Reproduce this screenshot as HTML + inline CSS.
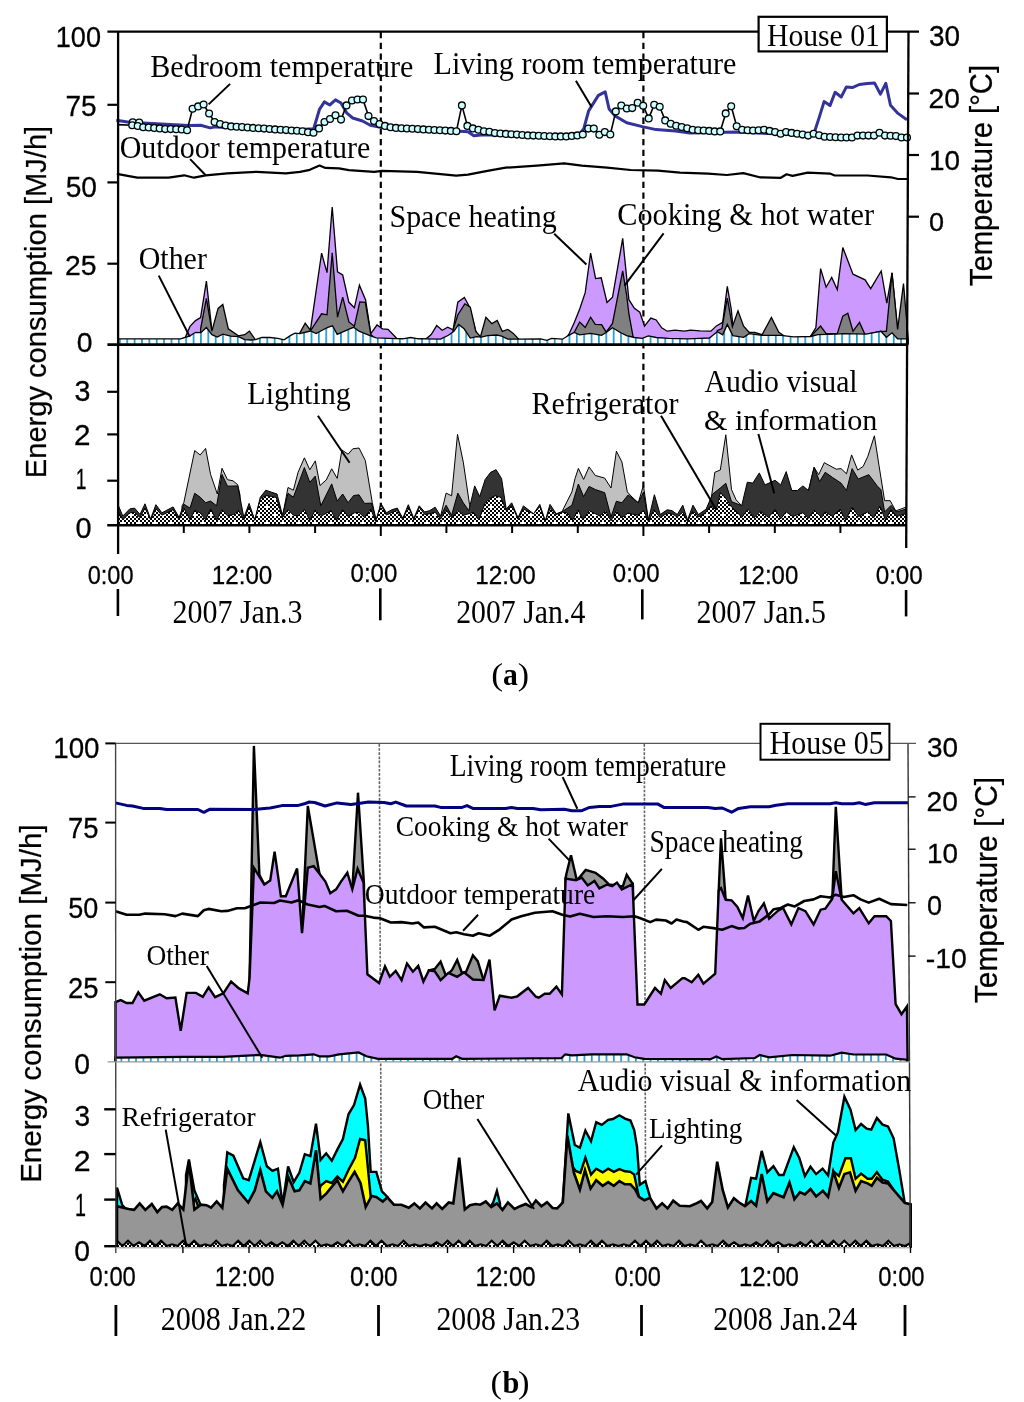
<!DOCTYPE html>
<html><head><meta charset="utf-8"><title>Energy consumption</title><style>html,body{margin:0;padding:0;background:#fff;}svg{display:block;}</style></head><body>
<svg width="1024" height="1402" viewBox="0 0 1024 1402">
<defs>
<pattern id="stripes" patternUnits="userSpaceOnUse" x="119" y="0" width="7.37" height="20"><rect width="7.37" height="20" fill="#fff"/><rect x="0" y="0" width="1.7" height="20" fill="#1a9bd7"/></pattern>
<pattern id="hatchA" patternUnits="userSpaceOnUse" x="0" y="0" width="16" height="16"><rect width="16" height="16" fill="#fff"/><path d="M0,0h2v2h-2zM0,4h2v2h-2zM0,8h2v2h-2zM0,12h2v2h-2zM2,6h2v2h-2zM2,10h2v2h-2zM2,14h2v2h-2zM4,0h2v2h-2zM4,4h2v2h-2zM4,8h2v2h-2zM4,12h2v2h-2zM6,2h2v2h-2zM6,6h2v2h-2zM6,10h2v2h-2zM6,14h2v2h-2zM8,0h2v2h-2zM8,4h2v2h-2zM8,8h2v2h-2zM8,12h2v2h-2zM10,2h2v2h-2zM10,6h2v2h-2zM10,14h2v2h-2zM12,0h2v2h-2zM12,4h2v2h-2zM12,8h2v2h-2zM12,12h2v2h-2zM14,2h2v2h-2zM14,6h2v2h-2zM14,10h2v2h-2zM14,14h2v2h-2z" fill="#000"/></pattern>
<pattern id="hatchB" patternUnits="userSpaceOnUse" x="1" y="1" width="16" height="16"><rect width="16" height="16" fill="#fff"/><path d="M0,0h2v2h-2zM0,4h2v2h-2zM0,8h2v2h-2zM0,12h2v2h-2zM2,6h2v2h-2zM2,10h2v2h-2zM2,14h2v2h-2zM4,0h2v2h-2zM4,4h2v2h-2zM4,8h2v2h-2zM4,12h2v2h-2zM6,2h2v2h-2zM6,6h2v2h-2zM6,10h2v2h-2zM6,14h2v2h-2zM8,0h2v2h-2zM8,4h2v2h-2zM8,8h2v2h-2zM8,12h2v2h-2zM10,2h2v2h-2zM10,6h2v2h-2zM10,14h2v2h-2zM12,0h2v2h-2zM12,4h2v2h-2zM12,8h2v2h-2zM12,12h2v2h-2zM14,2h2v2h-2zM14,6h2v2h-2zM14,10h2v2h-2zM14,14h2v2h-2z" fill="#000"/></pattern>
<pattern id="stripesB" patternUnits="userSpaceOnUse" x="120.5" y="0" width="7.35" height="20"><rect width="7.35" height="20" fill="#fff"/><rect x="0" y="0" width="1.7" height="20" fill="#1a9bd7"/></pattern>
</defs>
<rect width="1024" height="1402" fill="#fff"/>
<line x1="380.8" y1="32" x2="380.8" y2="525" stroke="#000" stroke-width="2.2" stroke-dasharray="6.3 4.4"/>
<line x1="643.4" y1="32" x2="643.4" y2="525" stroke="#000" stroke-width="2.2" stroke-dasharray="6.3 4.4"/>
<line x1="379.3" y1="744" x2="381.5" y2="1246" stroke="#666" stroke-width="1.6" stroke-dasharray="2.7 1.45"/>
<line x1="644.3" y1="744" x2="645.7" y2="1246" stroke="#666" stroke-width="1.6" stroke-dasharray="2.7 1.45"/>
<path d="M183.0,344.5 L183.0,338.5 185.3,337.3 190.0,326.4 195.5,320.6 200.6,317.5 206.4,281.1 211.9,330.3 214.0,334.0 L214.0,344.5 Z" fill="#cc99ff" stroke="none"/><path d="M183.0,344.5 L183.0,338.5 185.3,337.3 190.0,326.4 195.5,320.6 200.6,317.5 206.4,281.1 211.9,330.3 214.0,334.0 L214.0,344.5" fill="none" stroke="#000" stroke-width="1.3" stroke-linejoin="miter" stroke-miterlimit="4"/>
<path d="M308.0,344.5 L308.0,332.0 310.6,328.9 321.6,253.1 327.0,272.7 332.2,207.0 337.5,271.9 342.7,275.0 348.9,302.3 354.4,307.8 359.4,285.2 365.6,300.0 370.8,333.6 377.0,325.0 382.5,328.9 388.0,329.4 396.6,338.3 426.2,338.8 431.2,334.5 436.7,325.6 442.2,330.3 447.7,327.2 453.1,329.8 457.8,302.2 464.4,297.5 469.5,306.9 475.8,331.4 478.0,336.0 L478.0,344.5 Z" fill="#cc99ff" stroke="none"/><path d="M308.0,344.5 L308.0,332.0 310.6,328.9 321.6,253.1 327.0,272.7 332.2,207.0 337.5,271.9 342.7,275.0 348.9,302.3 354.4,307.8 359.4,285.2 365.6,300.0 370.8,333.6 377.0,325.0 382.5,328.9 388.0,329.4 396.6,338.3 426.2,338.8 431.2,334.5 436.7,325.6 442.2,330.3 447.7,327.2 453.1,329.8 457.8,302.2 464.4,297.5 469.5,306.9 475.8,331.4 478.0,336.0 L478.0,344.5" fill="none" stroke="#000" stroke-width="1.3" stroke-linejoin="miter" stroke-miterlimit="4"/>
<path d="M566.0,344.5 L566.0,338.0 568.8,334.5 574.2,322.8 579.7,309.0 585.2,292.7 590.6,253.1 595.6,278.6 601.2,277.8 607.0,302.5 612.5,297.3 622.7,238.4 628.9,299.7 634.4,308.3 639.8,312.2 644.5,326.2 650.8,318.1 656.2,320.0 661.7,327.8 667.2,331.2 675.0,330.2 684.4,331.2 690.6,330.2 700.0,330.9 710.9,331.2 716.4,325.9 722.7,322.3 727.3,286.4 731.2,309.0 733.0,327.0 736.0,334.0 L736.0,344.5 Z" fill="#cc99ff" stroke="none"/><path d="M566.0,344.5 L566.0,338.0 568.8,334.5 574.2,322.8 579.7,309.0 585.2,292.7 590.6,253.1 595.6,278.6 601.2,277.8 607.0,302.5 612.5,297.3 622.7,238.4 628.9,299.7 634.4,308.3 639.8,312.2 644.5,326.2 650.8,318.1 656.2,320.0 661.7,327.8 667.2,331.2 675.0,330.2 684.4,331.2 690.6,330.2 700.0,330.9 710.9,331.2 716.4,325.9 722.7,322.3 727.3,286.4 731.2,309.0 733.0,327.0 736.0,334.0 L736.0,344.5" fill="none" stroke="#000" stroke-width="1.3" stroke-linejoin="miter" stroke-miterlimit="4"/>
<path d="M808.0,344.5 L808.0,338.0 810.4,336.5 815.9,327.6 820.6,268.6 826.1,287.2 831.7,277.5 837.3,289.6 842.8,247.5 853.0,274.2 865.1,279.8 870.7,288.7 881.2,271.0 886.8,303.1 892.0,272.9 897.6,329.5 900.0,332.0 L900.0,344.5 Z" fill="#cc99ff" stroke="none"/><path d="M808.0,344.5 L808.0,338.0 810.4,336.5 815.9,327.6 820.6,268.6 826.1,287.2 831.7,277.5 837.3,289.6 842.8,247.5 853.0,274.2 865.1,279.8 870.7,288.7 881.2,271.0 886.8,303.1 892.0,272.9 897.6,329.5 900.0,332.0 L900.0,344.5" fill="none" stroke="#000" stroke-width="1.3" stroke-linejoin="miter" stroke-miterlimit="4"/>
<path d="M200.6,344.5 L200.6,328.8 206.4,298.3 211.9,331.1 218.1,308.4 222.8,304.5 228.3,328.8 238.4,335.8 244.7,334.7 249.4,331.1 254.8,338.9 L254.8,344.5 Z" fill="#808080" stroke="none"/><path d="M200.6,344.5 L200.6,328.8 206.4,298.3 211.9,331.1 218.1,308.4 222.8,304.5 228.3,328.8 238.4,335.8 244.7,334.7 249.4,331.1 254.8,338.9 L254.8,344.5" fill="none" stroke="#000" stroke-width="1.3" stroke-linejoin="miter" stroke-miterlimit="4"/>
<path d="M299.7,344.5 L299.7,333.1 305.2,323.1 310.6,330.5 321.6,313.8 327.0,314.8 332.2,252.8 337.5,317.2 342.7,297.2 348.9,321.9 354.4,326.2 359.8,301.9 365.3,302.3 370.8,334.4 373.1,336.7 L373.1,344.5 Z" fill="#808080" stroke="none"/><path d="M299.7,344.5 L299.7,333.1 305.2,323.1 310.6,330.5 321.6,313.8 327.0,314.8 332.2,252.8 337.5,317.2 342.7,297.2 348.9,321.9 354.4,326.2 359.8,301.9 365.3,302.3 370.8,334.4 373.1,336.7 L373.1,344.5" fill="none" stroke="#000" stroke-width="1.3" stroke-linejoin="miter" stroke-miterlimit="4"/>
<path d="M453.1,344.5 L453.1,329.8 457.8,315.0 464.8,303.8 470.3,307.2 475.8,331.4 480.5,336.6 485.9,317.3 491.9,323.6 497.2,320.5 502.3,331.4 507.8,329.4 513.3,333.4 518.8,339.2 L518.8,344.5 Z" fill="#808080" stroke="none"/><path d="M453.1,344.5 L453.1,329.8 457.8,315.0 464.8,303.8 470.3,307.2 475.8,331.4 480.5,336.6 485.9,317.3 491.9,323.6 497.2,320.5 502.3,331.4 507.8,329.4 513.3,333.4 518.8,339.2 L518.8,344.5" fill="none" stroke="#000" stroke-width="1.3" stroke-linejoin="miter" stroke-miterlimit="4"/>
<path d="M574.2,344.5 L574.2,332.5 579.7,322.0 585.2,327.5 590.6,317.2 595.3,324.4 601.6,324.7 606.2,332.2 612.5,323.4 622.7,270.8 626.6,295.0 628.9,313.8 633.1,336.9 L633.1,344.5 Z" fill="#808080" stroke="none"/><path d="M574.2,344.5 L574.2,332.5 579.7,322.0 585.2,327.5 590.6,317.2 595.3,324.4 601.6,324.7 606.2,332.2 612.5,323.4 622.7,270.8 626.6,295.0 628.9,313.8 633.1,336.9 L633.1,344.5" fill="none" stroke="#000" stroke-width="1.3" stroke-linejoin="miter" stroke-miterlimit="4"/>
<path d="M717.2,344.5 L717.2,330.6 721.9,328.6 727.3,298.1 732.4,326.7 738.0,310.9 743.6,326.1 749.1,332.3 754.7,332.3 762.1,334.7 771.4,317.4 778.8,332.3 784.4,336.0 L784.4,344.5 Z" fill="#808080" stroke="none"/><path d="M717.2,344.5 L717.2,330.6 721.9,328.6 727.3,298.1 732.4,326.7 738.0,310.9 743.6,326.1 749.1,332.3 754.7,332.3 762.1,334.7 771.4,317.4 778.8,332.3 784.4,336.0 L784.4,344.5" fill="none" stroke="#000" stroke-width="1.3" stroke-linejoin="miter" stroke-miterlimit="4"/>
<path d="M810.4,344.5 L810.4,336.5 820.6,326.1 826.1,333.6 837.3,333.6 842.8,316.1 847.8,313.2 853.0,331.3 859.5,322.4 865.1,334.7 880.9,331.3 886.4,331.3 892.0,272.9 897.6,329.5 903.5,283.5 908.2,338.8 L908.2,344.5 Z" fill="#808080" stroke="none"/><path d="M810.4,344.5 L810.4,336.5 820.6,326.1 826.1,333.6 837.3,333.6 842.8,316.1 847.8,313.2 853.0,331.3 859.5,322.4 865.1,334.7 880.9,331.3 886.4,331.3 892.0,272.9 897.6,329.5 903.5,283.5 908.2,338.8 L908.2,344.5" fill="none" stroke="#000" stroke-width="1.3" stroke-linejoin="miter" stroke-miterlimit="4"/>
<path d="M118.0,344.5 L118.0,338.9 180.6,338.9 185.3,337.3 190.0,335.8 195.5,332.3 200.9,332.7 206.4,327.5 211.9,334.7 217.3,337.0 222.8,334.2 230.6,336.2 238.4,336.6 244.7,339.7 250.9,340.0 255.6,339.7 261.9,337.3 270.0,337.5 277.8,338.3 284.1,339.8 290.3,335.6 295.0,333.1 299.7,333.6 310.6,331.0 316.1,333.6 323.1,329.7 327.8,327.3 332.5,325.8 337.2,334.4 343.4,331.6 349.7,328.9 353.6,327.3 359.0,331.2 370.0,335.6 376.2,337.8 388.8,338.3 402.8,338.8 410.6,337.5 418.4,338.8 425.0,338.8 440.6,339.2 448.4,335.3 453.9,331.4 458.6,324.4 464.1,328.8 470.3,338.1 476.6,336.6 481.2,337.2 487.5,335.6 496.9,335.0 501.6,336.1 507.8,339.2 518.8,339.2 540.6,338.8 546.9,340.3 551.6,338.4 562.5,339.2 568.8,335.3 574.2,332.5 579.7,334.8 590.6,333.3 601.6,335.3 606.2,332.5 612.5,327.8 620.3,332.5 626.6,335.6 634.4,337.5 642.2,338.4 648.4,335.9 656.2,337.5 668.8,338.4 687.5,338.8 700.0,338.4 709.4,338.0 717.2,331.7 722.7,334.8 727.3,324.4 732.8,335.6 743.6,337.3 749.1,333.6 762.1,335.4 780.7,335.4 793.7,336.9 810.4,336.5 817.8,334.7 836.3,334.1 843.8,333.6 866.0,334.1 880.9,331.3 886.4,337.3 892.0,332.8 897.6,338.8 907.8,338.8 L907.8,344.5 Z" fill="url(#stripes)" stroke="none"/><path d="M118.0,344.5 L118.0,338.9 180.6,338.9 185.3,337.3 190.0,335.8 195.5,332.3 200.9,332.7 206.4,327.5 211.9,334.7 217.3,337.0 222.8,334.2 230.6,336.2 238.4,336.6 244.7,339.7 250.9,340.0 255.6,339.7 261.9,337.3 270.0,337.5 277.8,338.3 284.1,339.8 290.3,335.6 295.0,333.1 299.7,333.6 310.6,331.0 316.1,333.6 323.1,329.7 327.8,327.3 332.5,325.8 337.2,334.4 343.4,331.6 349.7,328.9 353.6,327.3 359.0,331.2 370.0,335.6 376.2,337.8 388.8,338.3 402.8,338.8 410.6,337.5 418.4,338.8 425.0,338.8 440.6,339.2 448.4,335.3 453.9,331.4 458.6,324.4 464.1,328.8 470.3,338.1 476.6,336.6 481.2,337.2 487.5,335.6 496.9,335.0 501.6,336.1 507.8,339.2 518.8,339.2 540.6,338.8 546.9,340.3 551.6,338.4 562.5,339.2 568.8,335.3 574.2,332.5 579.7,334.8 590.6,333.3 601.6,335.3 606.2,332.5 612.5,327.8 620.3,332.5 626.6,335.6 634.4,337.5 642.2,338.4 648.4,335.9 656.2,337.5 668.8,338.4 687.5,338.8 700.0,338.4 709.4,338.0 717.2,331.7 722.7,334.8 727.3,324.4 732.8,335.6 743.6,337.3 749.1,333.6 762.1,335.4 780.7,335.4 793.7,336.9 810.4,336.5 817.8,334.7 836.3,334.1 843.8,333.6 866.0,334.1 880.9,331.3 886.4,337.3 892.0,332.8 897.6,338.8 907.8,338.8 L907.8,344.5" fill="none" stroke="#000" stroke-width="1.3" stroke-linejoin="miter" stroke-miterlimit="4"/>
<path d="M182.0,525.0 L182.0,506.0 183.8,502.7 194.7,450.6 200.2,455.0 205.6,448.4 210.6,474.5 217.3,494.0 222.0,468.3 227.5,479.7 233.0,480.8 237.7,484.7 240.0,495.0 L240.0,525.0 Z" fill="#c0c0c0" stroke="none"/><path d="M182.0,525.0 L182.0,506.0 183.8,502.7 194.7,450.6 200.2,455.0 205.6,448.4 210.6,474.5 217.3,494.0 222.0,468.3 227.5,479.7 233.0,480.8 237.7,484.7 240.0,495.0 L240.0,525.0" fill="none" stroke="#000" stroke-width="1.0" stroke-linejoin="miter" stroke-miterlimit="4"/>
<path d="M283.0,525.0 L283.0,514.0 288.0,487.5 293.4,490.2 298.1,472.2 304.4,457.8 309.8,469.8 315.3,460.9 320.0,485.5 326.2,480.0 331.7,468.8 337.2,478.4 341.9,450.0 348.1,454.2 352.8,448.8 359.0,448.0 365.3,460.5 372.3,502.7 376.2,520.6 L376.2,525.0 Z" fill="#c0c0c0" stroke="none"/><path d="M283.0,525.0 L283.0,514.0 288.0,487.5 293.4,490.2 298.1,472.2 304.4,457.8 309.8,469.8 315.3,460.9 320.0,485.5 326.2,480.0 331.7,468.8 337.2,478.4 341.9,450.0 348.1,454.2 352.8,448.8 359.0,448.0 365.3,460.5 372.3,502.7 376.2,520.6 L376.2,525.0" fill="none" stroke="#000" stroke-width="1.0" stroke-linejoin="miter" stroke-miterlimit="4"/>
<path d="M440.6,525.0 L440.6,516.1 446.1,493.1 451.6,495.8 457.5,434.4 463.3,462.2 469.5,504.4 471.0,510.0 L471.0,525.0 Z" fill="#c0c0c0" stroke="none"/><path d="M440.6,525.0 L440.6,516.1 446.1,493.1 451.6,495.8 457.5,434.4 463.3,462.2 469.5,504.4 471.0,510.0 L471.0,525.0" fill="none" stroke="#000" stroke-width="1.0" stroke-linejoin="miter" stroke-miterlimit="4"/>
<path d="M562.5,525.0 L562.5,510.6 571.9,491.9 575.0,478.6 578.4,468.4 583.6,479.4 589.1,466.9 595.3,475.5 604.7,478.1 611.0,488.0 616.4,451.2 621.9,461.9 627.3,491.9 632.0,497.0 638.3,502.8 643.4,485.3 648.4,520.0 L648.4,525.0 Z" fill="#c0c0c0" stroke="none"/><path d="M562.5,525.0 L562.5,510.6 571.9,491.9 575.0,478.6 578.4,468.4 583.6,479.4 589.1,466.9 595.3,475.5 604.7,478.1 611.0,488.0 616.4,451.2 621.9,461.9 627.3,491.9 632.0,497.0 638.3,502.8 643.4,485.3 648.4,520.0 L648.4,525.0" fill="none" stroke="#000" stroke-width="1.0" stroke-linejoin="miter" stroke-miterlimit="4"/>
<path d="M706.2,525.0 L706.2,509.1 710.9,501.2 714.8,472.3 720.3,470.0 725.8,434.8 731.5,489.6 736.1,499.8 741.7,505.7 L741.7,525.0 Z" fill="#c0c0c0" stroke="none"/><path d="M706.2,525.0 L706.2,509.1 710.9,501.2 714.8,472.3 720.3,470.0 725.8,434.8 731.5,489.6 736.1,499.8 741.7,505.7 L741.7,525.0" fill="none" stroke="#000" stroke-width="1.0" stroke-linejoin="miter" stroke-miterlimit="4"/>
<path d="M808.5,525.0 L808.5,490.5 814.1,467.3 818.7,474.7 824.3,462.7 836.3,469.2 841.0,468.6 846.5,473.8 851.6,454.9 857.7,470.1 863.2,466.4 867.9,456.2 874.4,435.8 879.0,465.5 884.6,500.7 890.2,500.7 895.7,510.9 905.9,507.2 L905.9,525.0 Z" fill="#c0c0c0" stroke="none"/><path d="M808.5,525.0 L808.5,490.5 814.1,467.3 818.7,474.7 824.3,462.7 836.3,469.2 841.0,468.6 846.5,473.8 851.6,454.9 857.7,470.1 863.2,466.4 867.9,456.2 874.4,435.8 879.0,465.5 884.6,500.7 890.2,500.7 895.7,510.9 905.9,507.2 L905.9,525.0" fill="none" stroke="#000" stroke-width="1.0" stroke-linejoin="miter" stroke-miterlimit="4"/>
<path d="M118.1,525.0 L118.1,505.0 122.8,516.0 129.8,508.9 134.5,508.1 140.0,514.4 145.0,503.8 150.6,519.0 155.9,504.7 161.9,512.8 173.1,506.9 179.1,517.5 183.8,504.2 190.0,508.1 194.7,493.3 200.2,497.2 205.6,502.7 210.6,501.1 216.6,505.8 222.0,474.5 227.5,486.2 237.7,485.9 243.9,517.5 249.1,503.4 254.8,520.3 260.3,497.2 265.8,490.2 270.0,491.7 277.0,494.0 282.5,515.2 288.0,493.3 293.4,497.2 304.4,467.5 309.8,482.3 315.3,476.1 320.8,505.8 331.7,483.9 337.2,501.1 342.7,494.0 348.1,502.7 353.6,495.6 359.0,494.8 364.5,503.4 371.6,503.1 376.2,520.6 380.9,503.4 386.4,512.8 391.9,509.7 397.3,508.1 402.8,518.3 408.3,504.7 413.8,518.3 419.2,505.8 424.7,512.0 429.7,510.6 435.2,507.2 440.6,516.1 446.1,505.2 451.6,515.3 457.8,493.1 463.3,502.8 468.8,510.6 474.7,485.9 479.7,496.6 485.2,479.4 490.6,472.3 496.1,469.7 501.6,478.6 506.2,509.1 511.7,502.8 518.0,517.7 523.4,505.9 533.6,513.8 539.8,504.4 545.3,520.8 550.0,504.4 556.2,513.8 562.5,511.4 571.9,505.2 575.0,495.0 578.4,484.0 583.6,496.6 589.1,486.4 595.3,489.5 604.7,492.7 611.0,516.9 616.4,501.2 621.9,502.8 628.1,495.0 638.3,502.8 643.4,492.2 648.4,520.0 654.4,494.7 660.2,514.5 667.2,509.8 671.9,510.6 677.3,514.5 682.8,505.2 687.5,520.0 693.0,505.2 698.4,514.5 706.2,509.1 712.5,494.2 720.3,488.0 725.8,483.3 731.5,501.6 741.7,505.7 747.3,482.2 752.8,483.1 759.3,472.9 764.9,484.9 775.1,480.3 780.7,484.9 786.2,471.6 791.8,490.5 797.4,490.5 802.9,485.9 808.5,490.5 814.1,467.3 819.6,481.6 825.2,472.3 832.6,477.5 841.0,483.1 846.5,490.5 852.1,468.6 858.2,479.0 868.8,474.7 877.2,485.9 880.9,489.6 884.6,511.9 891.1,505.4 896.6,511.9 905.9,509.1 L905.9,525.0 Z" fill="#333333" stroke="none"/><path d="M118.1,525.0 L118.1,505.0 122.8,516.0 129.8,508.9 134.5,508.1 140.0,514.4 145.0,503.8 150.6,519.0 155.9,504.7 161.9,512.8 173.1,506.9 179.1,517.5 183.8,504.2 190.0,508.1 194.7,493.3 200.2,497.2 205.6,502.7 210.6,501.1 216.6,505.8 222.0,474.5 227.5,486.2 237.7,485.9 243.9,517.5 249.1,503.4 254.8,520.3 260.3,497.2 265.8,490.2 270.0,491.7 277.0,494.0 282.5,515.2 288.0,493.3 293.4,497.2 304.4,467.5 309.8,482.3 315.3,476.1 320.8,505.8 331.7,483.9 337.2,501.1 342.7,494.0 348.1,502.7 353.6,495.6 359.0,494.8 364.5,503.4 371.6,503.1 376.2,520.6 380.9,503.4 386.4,512.8 391.9,509.7 397.3,508.1 402.8,518.3 408.3,504.7 413.8,518.3 419.2,505.8 424.7,512.0 429.7,510.6 435.2,507.2 440.6,516.1 446.1,505.2 451.6,515.3 457.8,493.1 463.3,502.8 468.8,510.6 474.7,485.9 479.7,496.6 485.2,479.4 490.6,472.3 496.1,469.7 501.6,478.6 506.2,509.1 511.7,502.8 518.0,517.7 523.4,505.9 533.6,513.8 539.8,504.4 545.3,520.8 550.0,504.4 556.2,513.8 562.5,511.4 571.9,505.2 575.0,495.0 578.4,484.0 583.6,496.6 589.1,486.4 595.3,489.5 604.7,492.7 611.0,516.9 616.4,501.2 621.9,502.8 628.1,495.0 638.3,502.8 643.4,492.2 648.4,520.0 654.4,494.7 660.2,514.5 667.2,509.8 671.9,510.6 677.3,514.5 682.8,505.2 687.5,520.0 693.0,505.2 698.4,514.5 706.2,509.1 712.5,494.2 720.3,488.0 725.8,483.3 731.5,501.6 741.7,505.7 747.3,482.2 752.8,483.1 759.3,472.9 764.9,484.9 775.1,480.3 780.7,484.9 786.2,471.6 791.8,490.5 797.4,490.5 802.9,485.9 808.5,490.5 814.1,467.3 819.6,481.6 825.2,472.3 832.6,477.5 841.0,483.1 846.5,490.5 852.1,468.6 858.2,479.0 868.8,474.7 877.2,485.9 880.9,489.6 884.6,511.9 891.1,505.4 896.6,511.9 905.9,509.1 L905.9,525.0" fill="none" stroke="#000" stroke-width="1.0" stroke-linejoin="miter" stroke-miterlimit="4"/>
<path d="M118.1,525.0 L118.1,511.2 122.8,519.8 129.8,512.8 134.5,512.5 140.0,517.5 145.0,508.1 150.6,519.8 155.9,508.9 161.9,515.2 173.1,509.7 179.1,519.8 183.8,508.1 190.0,519.8 194.7,510.5 200.2,512.8 205.6,519.8 210.6,508.9 216.6,520.6 222.0,509.7 227.5,515.9 233.8,514.4 238.4,510.5 243.9,519.8 249.1,506.6 254.8,520.3 260.3,498.8 265.8,495.6 271.2,496.4 276.2,497.5 282.5,517.5 288.0,509.7 293.4,515.2 298.1,516.0 304.4,509.4 309.8,520.6 315.3,510.0 321.6,516.0 331.0,510.5 336.4,520.6 342.7,509.7 348.1,516.7 354.4,512.8 359.0,512.5 364.5,517.5 370.8,508.9 375.5,521.4 380.9,505.0 386.4,515.2 391.9,512.5 397.3,510.5 402.8,519.8 408.3,506.6 413.8,519.8 419.2,507.3 424.7,514.4 429.7,513.8 435.2,512.2 440.6,519.2 446.1,509.8 451.6,517.7 457.8,510.6 463.3,515.3 468.8,513.8 473.4,512.2 478.9,520.0 485.2,502.8 490.6,498.1 495.3,495.8 500.8,497.3 506.2,510.6 511.7,505.2 518.0,519.2 523.4,509.1 533.6,513.8 539.8,506.7 545.3,521.6 550.0,508.3 556.2,514.5 562.5,512.2 567.2,513.0 572.7,520.0 578.1,509.8 582.8,520.0 589.1,510.6 595.3,513.8 600.0,516.1 605.5,510.6 611.0,520.8 616.4,510.6 621.9,517.7 628.1,513.0 637.5,515.3 643.8,510.6 648.4,521.6 653.9,509.8 660.2,517.7 667.2,513.0 671.9,513.8 677.3,516.9 682.8,512.2 687.5,521.6 693.0,510.6 698.4,516.9 704.7,513.8 710.9,505.9 716.4,509.8 720.3,492.7 725.5,498.0 731.5,507.0 735.0,510.0 741.7,517.4 748.2,509.1 753.8,518.0 760.3,511.3 768.6,517.4 775.1,509.4 780.7,518.7 786.2,511.9 792.7,516.5 802.9,512.8 808.5,518.3 814.1,510.0 821.5,517.4 825.2,511.9 832.6,516.5 840.0,509.1 845.6,520.2 852.1,507.2 858.6,516.5 867.9,511.9 873.5,518.0 880.0,506.3 885.5,520.2 891.1,509.4 896.6,516.5 905.9,513.7 L905.9,525.0 Z" fill="url(#hatchA)" stroke="none"/><path d="M118.1,525.0 L118.1,511.2 122.8,519.8 129.8,512.8 134.5,512.5 140.0,517.5 145.0,508.1 150.6,519.8 155.9,508.9 161.9,515.2 173.1,509.7 179.1,519.8 183.8,508.1 190.0,519.8 194.7,510.5 200.2,512.8 205.6,519.8 210.6,508.9 216.6,520.6 222.0,509.7 227.5,515.9 233.8,514.4 238.4,510.5 243.9,519.8 249.1,506.6 254.8,520.3 260.3,498.8 265.8,495.6 271.2,496.4 276.2,497.5 282.5,517.5 288.0,509.7 293.4,515.2 298.1,516.0 304.4,509.4 309.8,520.6 315.3,510.0 321.6,516.0 331.0,510.5 336.4,520.6 342.7,509.7 348.1,516.7 354.4,512.8 359.0,512.5 364.5,517.5 370.8,508.9 375.5,521.4 380.9,505.0 386.4,515.2 391.9,512.5 397.3,510.5 402.8,519.8 408.3,506.6 413.8,519.8 419.2,507.3 424.7,514.4 429.7,513.8 435.2,512.2 440.6,519.2 446.1,509.8 451.6,517.7 457.8,510.6 463.3,515.3 468.8,513.8 473.4,512.2 478.9,520.0 485.2,502.8 490.6,498.1 495.3,495.8 500.8,497.3 506.2,510.6 511.7,505.2 518.0,519.2 523.4,509.1 533.6,513.8 539.8,506.7 545.3,521.6 550.0,508.3 556.2,514.5 562.5,512.2 567.2,513.0 572.7,520.0 578.1,509.8 582.8,520.0 589.1,510.6 595.3,513.8 600.0,516.1 605.5,510.6 611.0,520.8 616.4,510.6 621.9,517.7 628.1,513.0 637.5,515.3 643.8,510.6 648.4,521.6 653.9,509.8 660.2,517.7 667.2,513.0 671.9,513.8 677.3,516.9 682.8,512.2 687.5,521.6 693.0,510.6 698.4,516.9 704.7,513.8 710.9,505.9 716.4,509.8 720.3,492.7 725.5,498.0 731.5,507.0 735.0,510.0 741.7,517.4 748.2,509.1 753.8,518.0 760.3,511.3 768.6,517.4 775.1,509.4 780.7,518.7 786.2,511.9 792.7,516.5 802.9,512.8 808.5,518.3 814.1,510.0 821.5,517.4 825.2,511.9 832.6,516.5 840.0,509.1 845.6,520.2 852.1,507.2 858.6,516.5 867.9,511.9 873.5,518.0 880.0,506.3 885.5,520.2 891.1,509.4 896.6,516.5 905.9,513.7 L905.9,525.0" fill="none" stroke="#000" stroke-width="1.0" stroke-linejoin="miter" stroke-miterlimit="4"/>
<polyline points="116.8,173.8 137.3,177.7 168.6,177.7 184.2,175.3 194.0,177.7 205.7,175.3 227.2,173.4 256.5,171.8 285.8,173.4 300.0,171.8 309.8,169.8 319.5,165.5 325.4,167.9 339.0,168.3 348.8,170.2 374.2,171.8 382.0,170.8 417.2,171.8 456.2,175.7 468.0,174.7 487.5,170.8 505.6,167.7 536.9,165.7 564.2,163.4 581.8,165.7 607.2,167.7 630.6,170.0 658.0,170.6 680.0,172.6 708.1,173.6 726.9,175.0 743.3,173.1 759.7,177.3 780.8,177.8 786.6,174.3 792.5,175.9 807.7,172.6 830.0,173.6 834.7,175.5 867.5,175.5 890.9,177.3 898.0,179.0 907.3,179.0" fill="none" stroke="#000" stroke-width="2.2" stroke-linejoin="round"/>
<polyline points="116.3,120.2 129.2,122.3 143.3,122.9 160.9,124.0 189.0,125.5 200.7,125.2 210.1,127.9 215.5,126.9 240.0,128.0 300.0,129.5 313.7,128.8 319.5,109.3 324.4,101.9 329.7,105.0 335.5,99.9 341.0,103.0 346.9,113.2 352.7,118.0 362.5,121.0 370.3,125.3 378.1,126.9 420.0,129.5 460.2,131.2 468.0,131.8 473.8,135.7 483.6,134.7 520.0,136.0 578.0,136.5 583.8,128.6 588.6,111.0 591.6,106.1 598.4,95.4 605.2,91.9 609.1,109.0 615.0,115.9 626.7,122.7 642.3,126.6 656.0,129.6 675.5,130.9 690.0,132.9 736.2,132.1 780.0,134.0 810.0,134.5 814.8,131.0 819.4,116.9 824.1,101.6 830.0,105.6 835.1,92.3 841.2,97.0 846.4,86.9 852.3,87.6 859.3,84.5 867.5,83.4 874.5,82.9 880.4,94.1 885.8,83.4 890.5,105.2 898.0,113.4 906.9,119.7" fill="none" stroke="#333399" stroke-width="3.0" stroke-linejoin="round"/>
<polyline points="117.5,124.6 132.2,125.2 137.7,126.0 143.2,127.2 148.7,127.5 154.2,127.9 159.7,128.4 165.2,129.1 170.7,129.1 176.2,129.3 181.7,129.5 187.1,130.2 192.6,108.8 198.1,106.4 203.6,104.5 209.1,113.5 214.6,122.0 220.1,124.0 225.6,125.5 231.1,126.4 236.6,126.8 242.1,127.1 247.6,127.5 253.1,127.9 258.6,128.2 264.1,128.6 269.6,129.0 275.1,129.4 280.6,129.7 286.1,130.1 291.6,130.5 297.0,130.8 302.5,131.2 308.0,132.3 313.5,132.7 319.0,128.4 324.5,122.0 330.0,119.0 335.5,115.2 341.0,119.6 346.5,105.4 352.0,100.5 357.5,99.5 363.0,99.5 368.5,116.1 374.0,121.0 379.5,124.0 385.0,125.9 390.5,127.3 396.0,127.9 401.5,128.2 406.9,128.5 412.4,128.8 417.9,129.1 423.4,129.4 428.9,129.7 434.4,130.0 439.9,130.3 445.4,130.6 450.9,130.9 456.4,131.2 461.9,105.4 467.4,125.9 472.9,128.4 478.4,129.8 483.9,131.2 489.4,131.8 494.9,133.1 500.4,133.5 505.9,133.9 511.4,134.3 516.9,134.6 522.3,135.0 527.8,135.4 533.3,135.6 538.8,135.8 544.3,136.0 549.8,136.2 555.3,136.4 560.8,136.4 566.3,136.4 571.8,135.9 577.3,135.4 582.8,134.5 588.3,128.6 593.8,128.6 599.3,134.8 604.8,132.1 610.3,134.5 615.8,111.4 621.3,105.5 626.8,108.5 632.2,108.1 637.7,102.8 643.2,105.7 648.7,118.4 654.2,104.8 659.7,106.7 665.2,120.4 670.7,123.7 676.2,125.7 681.7,127.0 687.2,128.2 692.7,129.8 698.2,130.2 703.7,130.5 709.2,130.9 714.7,131.4 720.2,131.4 725.7,113.4 731.2,106.3 736.7,126.2 742.1,129.8 747.6,130.2 753.1,130.5 758.6,130.2 764.1,129.8 769.6,130.9 775.1,132.1 780.6,133.7 786.1,132.1 791.6,132.9 797.1,133.7 802.6,134.6 808.1,135.6 813.6,133.7 819.1,135.2 824.6,136.8 830.1,137.0 835.6,137.3 841.1,137.5 846.5,137.5 852.0,137.5 857.5,135.6 863.0,135.6 868.5,135.6 874.0,135.6 879.5,132.8 885.0,135.6 890.5,135.8 896.0,136.1 901.5,137.5 907.0,137.5" fill="none" stroke="#000" stroke-width="1.6" stroke-linejoin="round"/>
<g fill="#ccffff" stroke="#000" stroke-width="1.3">
<circle cx="132.75" cy="122.3" r="3.4"/><circle cx="139.2" cy="122.5" r="3.4"/>
<circle cx="132.2" cy="125.2" r="3.4"/>
<circle cx="137.7" cy="126.0" r="3.4"/>
<circle cx="143.2" cy="127.2" r="3.4"/>
<circle cx="148.7" cy="127.5" r="3.4"/>
<circle cx="154.2" cy="127.9" r="3.4"/>
<circle cx="159.7" cy="128.4" r="3.4"/>
<circle cx="165.2" cy="129.1" r="3.4"/>
<circle cx="170.7" cy="129.1" r="3.4"/>
<circle cx="176.2" cy="129.3" r="3.4"/>
<circle cx="181.7" cy="129.5" r="3.4"/>
<circle cx="187.1" cy="130.2" r="3.4"/>
<circle cx="192.6" cy="108.8" r="3.4"/>
<circle cx="198.1" cy="106.4" r="3.4"/>
<circle cx="203.6" cy="104.5" r="3.4"/>
<circle cx="209.1" cy="113.5" r="3.4"/>
<circle cx="214.6" cy="122.0" r="3.4"/>
<circle cx="220.1" cy="124.0" r="3.4"/>
<circle cx="225.6" cy="125.5" r="3.4"/>
<circle cx="231.1" cy="126.4" r="3.4"/>
<circle cx="236.6" cy="126.8" r="3.4"/>
<circle cx="242.1" cy="127.1" r="3.4"/>
<circle cx="247.6" cy="127.5" r="3.4"/>
<circle cx="253.1" cy="127.9" r="3.4"/>
<circle cx="258.6" cy="128.2" r="3.4"/>
<circle cx="264.1" cy="128.6" r="3.4"/>
<circle cx="269.6" cy="129.0" r="3.4"/>
<circle cx="275.1" cy="129.4" r="3.4"/>
<circle cx="280.6" cy="129.7" r="3.4"/>
<circle cx="286.1" cy="130.1" r="3.4"/>
<circle cx="291.6" cy="130.5" r="3.4"/>
<circle cx="297.0" cy="130.8" r="3.4"/>
<circle cx="302.5" cy="131.2" r="3.4"/>
<circle cx="308.0" cy="132.3" r="3.4"/>
<circle cx="313.5" cy="132.7" r="3.4"/>
<circle cx="319.0" cy="128.4" r="3.4"/>
<circle cx="324.5" cy="122.0" r="3.4"/>
<circle cx="330.0" cy="119.0" r="3.4"/>
<circle cx="335.5" cy="115.2" r="3.4"/>
<circle cx="341.0" cy="119.6" r="3.4"/>
<circle cx="346.5" cy="105.4" r="3.4"/>
<circle cx="352.0" cy="100.5" r="3.4"/>
<circle cx="357.5" cy="99.5" r="3.4"/>
<circle cx="363.0" cy="99.5" r="3.4"/>
<circle cx="368.5" cy="116.1" r="3.4"/>
<circle cx="374.0" cy="121.0" r="3.4"/>
<circle cx="379.5" cy="124.0" r="3.4"/>
<circle cx="385.0" cy="125.9" r="3.4"/>
<circle cx="390.5" cy="127.3" r="3.4"/>
<circle cx="396.0" cy="127.9" r="3.4"/>
<circle cx="401.5" cy="128.2" r="3.4"/>
<circle cx="406.9" cy="128.5" r="3.4"/>
<circle cx="412.4" cy="128.8" r="3.4"/>
<circle cx="417.9" cy="129.1" r="3.4"/>
<circle cx="423.4" cy="129.4" r="3.4"/>
<circle cx="428.9" cy="129.7" r="3.4"/>
<circle cx="434.4" cy="130.0" r="3.4"/>
<circle cx="439.9" cy="130.3" r="3.4"/>
<circle cx="445.4" cy="130.6" r="3.4"/>
<circle cx="450.9" cy="130.9" r="3.4"/>
<circle cx="456.4" cy="131.2" r="3.4"/>
<circle cx="461.9" cy="105.4" r="3.4"/>
<circle cx="467.4" cy="125.9" r="3.4"/>
<circle cx="472.9" cy="128.4" r="3.4"/>
<circle cx="478.4" cy="129.8" r="3.4"/>
<circle cx="483.9" cy="131.2" r="3.4"/>
<circle cx="489.4" cy="131.8" r="3.4"/>
<circle cx="494.9" cy="133.1" r="3.4"/>
<circle cx="500.4" cy="133.5" r="3.4"/>
<circle cx="505.9" cy="133.9" r="3.4"/>
<circle cx="511.4" cy="134.3" r="3.4"/>
<circle cx="516.9" cy="134.6" r="3.4"/>
<circle cx="522.3" cy="135.0" r="3.4"/>
<circle cx="527.8" cy="135.4" r="3.4"/>
<circle cx="533.3" cy="135.6" r="3.4"/>
<circle cx="538.8" cy="135.8" r="3.4"/>
<circle cx="544.3" cy="136.0" r="3.4"/>
<circle cx="549.8" cy="136.2" r="3.4"/>
<circle cx="555.3" cy="136.4" r="3.4"/>
<circle cx="560.8" cy="136.4" r="3.4"/>
<circle cx="566.3" cy="136.4" r="3.4"/>
<circle cx="571.8" cy="135.9" r="3.4"/>
<circle cx="577.3" cy="135.4" r="3.4"/>
<circle cx="582.8" cy="134.5" r="3.4"/>
<circle cx="588.3" cy="128.6" r="3.4"/>
<circle cx="593.8" cy="128.6" r="3.4"/>
<circle cx="599.3" cy="134.8" r="3.4"/>
<circle cx="604.8" cy="132.1" r="3.4"/>
<circle cx="610.3" cy="134.5" r="3.4"/>
<circle cx="615.8" cy="111.4" r="3.4"/>
<circle cx="621.3" cy="105.5" r="3.4"/>
<circle cx="626.8" cy="108.5" r="3.4"/>
<circle cx="632.2" cy="108.1" r="3.4"/>
<circle cx="637.7" cy="102.8" r="3.4"/>
<circle cx="643.2" cy="105.7" r="3.4"/>
<circle cx="648.7" cy="118.4" r="3.4"/>
<circle cx="654.2" cy="104.8" r="3.4"/>
<circle cx="659.7" cy="106.7" r="3.4"/>
<circle cx="665.2" cy="120.4" r="3.4"/>
<circle cx="670.7" cy="123.7" r="3.4"/>
<circle cx="676.2" cy="125.7" r="3.4"/>
<circle cx="681.7" cy="127.0" r="3.4"/>
<circle cx="687.2" cy="128.2" r="3.4"/>
<circle cx="692.7" cy="129.8" r="3.4"/>
<circle cx="698.2" cy="130.2" r="3.4"/>
<circle cx="703.7" cy="130.5" r="3.4"/>
<circle cx="709.2" cy="130.9" r="3.4"/>
<circle cx="714.7" cy="131.4" r="3.4"/>
<circle cx="720.2" cy="131.4" r="3.4"/>
<circle cx="725.7" cy="113.4" r="3.4"/>
<circle cx="731.2" cy="106.3" r="3.4"/>
<circle cx="736.7" cy="126.2" r="3.4"/>
<circle cx="742.1" cy="129.8" r="3.4"/>
<circle cx="747.6" cy="130.2" r="3.4"/>
<circle cx="753.1" cy="130.5" r="3.4"/>
<circle cx="758.6" cy="130.2" r="3.4"/>
<circle cx="764.1" cy="129.8" r="3.4"/>
<circle cx="769.6" cy="130.9" r="3.4"/>
<circle cx="775.1" cy="132.1" r="3.4"/>
<circle cx="780.6" cy="133.7" r="3.4"/>
<circle cx="786.1" cy="132.1" r="3.4"/>
<circle cx="791.6" cy="132.9" r="3.4"/>
<circle cx="797.1" cy="133.7" r="3.4"/>
<circle cx="802.6" cy="134.6" r="3.4"/>
<circle cx="808.1" cy="135.6" r="3.4"/>
<circle cx="813.6" cy="133.7" r="3.4"/>
<circle cx="819.1" cy="135.2" r="3.4"/>
<circle cx="824.6" cy="136.8" r="3.4"/>
<circle cx="830.1" cy="137.0" r="3.4"/>
<circle cx="835.6" cy="137.3" r="3.4"/>
<circle cx="841.1" cy="137.5" r="3.4"/>
<circle cx="846.5" cy="137.5" r="3.4"/>
<circle cx="852.0" cy="137.5" r="3.4"/>
<circle cx="857.5" cy="135.6" r="3.4"/>
<circle cx="863.0" cy="135.6" r="3.4"/>
<circle cx="868.5" cy="135.6" r="3.4"/>
<circle cx="874.0" cy="135.6" r="3.4"/>
<circle cx="879.5" cy="132.8" r="3.4"/>
<circle cx="885.0" cy="135.6" r="3.4"/>
<circle cx="890.5" cy="135.8" r="3.4"/>
<circle cx="896.0" cy="136.1" r="3.4"/>
<circle cx="901.5" cy="137.5" r="3.4"/>
<circle cx="907.0" cy="137.5" r="3.4"/>
</g>
<line x1="118.1" y1="31.7" x2="118.1" y2="554" stroke="#000" stroke-width="2.3"/>
<line x1="908.5" y1="31.0" x2="906.2" y2="548" stroke="#000" stroke-width="2.3"/>
<line x1="107.4" y1="31.7" x2="919" y2="31.7" stroke="#000" stroke-width="2.2"/>
<line x1="107.4" y1="344.6" x2="908.2" y2="344.6" stroke="#000" stroke-width="2.8"/>
<line x1="107.2" y1="525.2" x2="906.6" y2="525.2" stroke="#000" stroke-width="2.6"/>
<line x1="107.4" y1="104.8" x2="118" y2="104.8" stroke="#000" stroke-width="2.2"/>
<line x1="107.4" y1="182.4" x2="118" y2="182.4" stroke="#000" stroke-width="2.2"/>
<line x1="107.4" y1="263.7" x2="118" y2="263.7" stroke="#000" stroke-width="2.2"/>
<line x1="107.2" y1="391.8" x2="118" y2="391.8" stroke="#000" stroke-width="2.2"/>
<line x1="107.2" y1="434.4" x2="118" y2="434.4" stroke="#000" stroke-width="2.2"/>
<line x1="107.2" y1="480.7" x2="118" y2="480.7" stroke="#000" stroke-width="2.2"/>
<line x1="908" y1="93.5" x2="919" y2="93.5" stroke="#000" stroke-width="2.2"/>
<line x1="908" y1="155" x2="919" y2="155" stroke="#000" stroke-width="2.2"/>
<line x1="908" y1="216.7" x2="919" y2="216.7" stroke="#000" stroke-width="2.2"/>
<line x1="183.8" y1="525" x2="183.8" y2="533" stroke="#000" stroke-width="2.0"/>
<line x1="249.4" y1="525" x2="249.4" y2="533" stroke="#000" stroke-width="2.0"/>
<line x1="315.1" y1="525" x2="315.1" y2="533" stroke="#000" stroke-width="2.0"/>
<line x1="380.8" y1="525" x2="380.8" y2="536" stroke="#000" stroke-width="2.0"/>
<line x1="446.4" y1="525" x2="446.4" y2="533" stroke="#000" stroke-width="2.0"/>
<line x1="512.1" y1="525" x2="512.1" y2="533" stroke="#000" stroke-width="2.0"/>
<line x1="577.8" y1="525" x2="577.8" y2="533" stroke="#000" stroke-width="2.0"/>
<line x1="643.4" y1="525" x2="643.4" y2="536" stroke="#000" stroke-width="2.0"/>
<line x1="709.1" y1="525" x2="709.1" y2="533" stroke="#000" stroke-width="2.0"/>
<line x1="774.8" y1="525" x2="774.8" y2="533" stroke="#000" stroke-width="2.0"/>
<line x1="840.4" y1="525" x2="840.4" y2="533" stroke="#000" stroke-width="2.0"/>
<line x1="117.9" y1="589" x2="117.9" y2="616" stroke="#000" stroke-width="2.6"/>
<line x1="380.3" y1="588.3" x2="380.3" y2="620.3" stroke="#000" stroke-width="2.6"/>
<line x1="642.3" y1="589.3" x2="642.3" y2="619.4" stroke="#000" stroke-width="2.6"/>
<line x1="906.1" y1="590" x2="906.1" y2="616.4" stroke="#000" stroke-width="2.6"/>
<path d="M249.6,1062.0 L249.6,977.7 253.9,745.9 259.4,874.8 264.3,884.5 L264.3,1062.0 Z" fill="#969696" stroke="none"/><path d="M249.6,1062.0 L249.6,977.7 253.9,745.9 259.4,874.8 264.3,884.5 L264.3,1062.0" fill="none" stroke="#000" stroke-width="2.4" stroke-linejoin="miter" stroke-miterlimit="4"/>
<path d="M302.0,1062.0 L302.0,933.2 307.8,806.0 318.6,868.9 319.5,873.7 L319.5,1062.0 Z" fill="#969696" stroke="none"/><path d="M302.0,1062.0 L302.0,933.2 307.8,806.0 318.6,868.9 319.5,873.7 L319.5,1062.0" fill="none" stroke="#000" stroke-width="2.4" stroke-linejoin="miter" stroke-miterlimit="4"/>
<path d="M352.3,1062.0 L352.3,889.3 358.0,792.7 363.5,876.7 364.0,885.0 L364.0,1062.0 Z" fill="#969696" stroke="none"/><path d="M352.3,1062.0 L352.3,889.3 358.0,792.7 363.5,876.7 364.0,885.0 L364.0,1062.0" fill="none" stroke="#000" stroke-width="2.4" stroke-linejoin="miter" stroke-miterlimit="4"/>
<path d="M428.9,1062.0 L428.9,970.4 434.8,969.0 440.6,961.6 446.0,976.0 452.0,970.0 457.2,960.0 462.0,973.0 466.0,972.0 472.9,955.3 477.7,961.2 483.6,980.1 L483.6,1062.0 Z" fill="#969696" stroke="none"/><path d="M428.9,1062.0 L428.9,970.4 434.8,969.0 440.6,961.6 446.0,976.0 452.0,970.0 457.2,960.0 462.0,973.0 466.0,972.0 472.9,955.3 477.7,961.2 483.6,980.1 L483.6,1062.0" fill="none" stroke="#000" stroke-width="2.4" stroke-linejoin="miter" stroke-miterlimit="4"/>
<path d="M565.6,1062.0 L565.6,878.6 566.2,874.8 571.0,855.2 576.9,880.6 585.7,869.9 595.5,872.8 603.3,878.7 609.1,884.5 622.8,886.5 626.7,874.8 632.6,883.6 633.0,886.0 L633.0,1062.0 Z" fill="#969696" stroke="none"/><path d="M565.6,1062.0 L565.6,878.6 566.2,874.8 571.0,855.2 576.9,880.6 585.7,869.9 595.5,872.8 603.3,878.7 609.1,884.5 622.8,886.5 626.7,874.8 632.6,883.6 633.0,886.0 L633.0,1062.0" fill="none" stroke="#000" stroke-width="2.4" stroke-linejoin="miter" stroke-miterlimit="4"/>
<path d="M718.7,1062.0 L718.7,890.5 721.0,838.4 725.7,899.8 L725.7,1062.0 Z" fill="#969696" stroke="none"/><path d="M718.7,1062.0 L718.7,890.5 721.0,838.4 725.7,899.8 L725.7,1062.0" fill="none" stroke="#000" stroke-width="2.4" stroke-linejoin="miter" stroke-miterlimit="4"/>
<path d="M832.3,1062.0 L832.3,898.7 835.8,806.8 841.7,899.8 L841.7,1062.0 Z" fill="#969696" stroke="none"/><path d="M832.3,1062.0 L832.3,898.7 835.8,806.8 841.7,899.8 L841.7,1062.0" fill="none" stroke="#000" stroke-width="2.4" stroke-linejoin="miter" stroke-miterlimit="4"/>
<path d="M115.5,1062.0 L115.5,1002.1 120.7,1000.1 126.6,1003.0 132.5,1003.0 138.3,992.3 144.2,1000.7 159.8,994.3 166.6,998.2 175.4,997.6 180.7,1030.8 186.6,992.9 195.9,992.9 202.8,996.8 208.6,987.4 215.1,997.2 223.3,993.3 231.1,981.6 238.9,988.4 247.7,993.3 249.6,977.7 253.9,867.9 264.3,884.5 270.2,880.6 274.6,851.7 280.9,896.2 285.8,896.2 297.1,868.5 302.0,933.2 307.8,867.8 313.7,866.2 319.5,873.7 325.4,881.5 330.3,893.2 336.1,889.3 341.0,881.6 347.3,872.7 352.3,889.3 357.6,868.8 363.5,882.5 367.4,974.3 379.1,983.0 385.0,966.4 389.8,976.8 395.7,970.9 401.6,980.1 407.0,963.5 412.9,971.7 418.2,965.9 423.4,981.5 428.9,970.4 434.8,971.3 440.6,980.1 448.4,972.9 457.2,976.8 464.1,972.3 472.9,979.5 483.6,980.1 489.5,959.6 494.6,1010.4 499.8,995.7 511.5,997.7 517.3,996.3 528.1,988.0 535.9,996.7 538.8,997.7 544.7,993.8 549.6,993.8 556.4,986.6 561.9,994.4 565.6,878.6 575.9,880.2 581.8,877.7 587.7,885.5 594.5,881.0 599.4,888.4 607.2,884.5 612.1,886.1 617.0,882.6 621.8,889.4 632.6,884.1 637.5,1004.5 644.3,1004.5 655.0,988.0 660.9,993.8 664.8,980.1 670.7,988.0 682.4,978.2 684.7,978.3 691.7,982.3 698.3,974.8 703.4,983.7 715.2,973.7 718.7,890.5 721.0,888.1 725.7,899.8 731.6,900.3 737.4,906.9 742.8,918.1 748.0,895.6 753.8,920.9 758.5,911.1 763.9,903.4 769.1,918.6 778.4,910.4 783.1,908.0 791.3,924.4 798.4,908.0 805.4,911.1 813.6,924.4 820.6,909.7 825.3,908.7 832.3,898.7 835.8,871.2 841.7,899.8 853.4,913.4 859.3,908.0 868.7,923.3 874.5,916.2 886.2,916.2 890.9,920.9 895.6,1004.1 901.5,1014.2 906.9,1006.5 907.6,1059.2 L907.6,1062.0 Z" fill="#cc99ff" stroke="none"/><path d="M115.5,1062.0 L115.5,1002.1 120.7,1000.1 126.6,1003.0 132.5,1003.0 138.3,992.3 144.2,1000.7 159.8,994.3 166.6,998.2 175.4,997.6 180.7,1030.8 186.6,992.9 195.9,992.9 202.8,996.8 208.6,987.4 215.1,997.2 223.3,993.3 231.1,981.6 238.9,988.4 247.7,993.3 249.6,977.7 253.9,867.9 264.3,884.5 270.2,880.6 274.6,851.7 280.9,896.2 285.8,896.2 297.1,868.5 302.0,933.2 307.8,867.8 313.7,866.2 319.5,873.7 325.4,881.5 330.3,893.2 336.1,889.3 341.0,881.6 347.3,872.7 352.3,889.3 357.6,868.8 363.5,882.5 367.4,974.3 379.1,983.0 385.0,966.4 389.8,976.8 395.7,970.9 401.6,980.1 407.0,963.5 412.9,971.7 418.2,965.9 423.4,981.5 428.9,970.4 434.8,971.3 440.6,980.1 448.4,972.9 457.2,976.8 464.1,972.3 472.9,979.5 483.6,980.1 489.5,959.6 494.6,1010.4 499.8,995.7 511.5,997.7 517.3,996.3 528.1,988.0 535.9,996.7 538.8,997.7 544.7,993.8 549.6,993.8 556.4,986.6 561.9,994.4 565.6,878.6 575.9,880.2 581.8,877.7 587.7,885.5 594.5,881.0 599.4,888.4 607.2,884.5 612.1,886.1 617.0,882.6 621.8,889.4 632.6,884.1 637.5,1004.5 644.3,1004.5 655.0,988.0 660.9,993.8 664.8,980.1 670.7,988.0 682.4,978.2 684.7,978.3 691.7,982.3 698.3,974.8 703.4,983.7 715.2,973.7 718.7,890.5 721.0,888.1 725.7,899.8 731.6,900.3 737.4,906.9 742.8,918.1 748.0,895.6 753.8,920.9 758.5,911.1 763.9,903.4 769.1,918.6 778.4,910.4 783.1,908.0 791.3,924.4 798.4,908.0 805.4,911.1 813.6,924.4 820.6,909.7 825.3,908.7 832.3,898.7 835.8,871.2 841.7,899.8 853.4,913.4 859.3,908.0 868.7,923.3 874.5,916.2 886.2,916.2 890.9,920.9 895.6,1004.1 901.5,1014.2 906.9,1006.5 907.6,1059.2 L907.6,1062.0" fill="none" stroke="#000" stroke-width="2.4" stroke-linejoin="miter" stroke-miterlimit="4"/>
<path d="M115.5,1062.0 L115.5,1057.7 184.2,1056.8 223.3,1056.8 260.4,1054.8 279.9,1057.7 285.8,1055.8 300.0,1055.3 313.7,1054.3 319.5,1056.3 329.3,1056.3 339.0,1054.3 358.6,1052.4 366.4,1056.3 378.1,1058.8 452.3,1058.8 456.2,1056.3 462.1,1058.8 561.3,1058.2 565.2,1054.3 572.0,1055.3 591.6,1054.3 626.7,1054.3 634.5,1057.3 644.3,1058.8 710.5,1059.2 716.3,1056.4 722.2,1059.2 755.0,1058.0 759.7,1055.0 769.1,1057.3 792.5,1055.0 830.0,1055.7 841.7,1052.6 853.4,1054.5 886.2,1054.5 895.6,1058.7 906.9,1059.7 L906.9,1062.0 Z" fill="url(#stripesB)" stroke="none"/><path d="M115.5,1062.0 L115.5,1057.7 184.2,1056.8 223.3,1056.8 260.4,1054.8 279.9,1057.7 285.8,1055.8 300.0,1055.3 313.7,1054.3 319.5,1056.3 329.3,1056.3 339.0,1054.3 358.6,1052.4 366.4,1056.3 378.1,1058.8 452.3,1058.8 456.2,1056.3 462.1,1058.8 561.3,1058.2 565.2,1054.3 572.0,1055.3 591.6,1054.3 626.7,1054.3 634.5,1057.3 644.3,1058.8 710.5,1059.2 716.3,1056.4 722.2,1059.2 755.0,1058.0 759.7,1055.0 769.1,1057.3 792.5,1055.0 830.0,1055.7 841.7,1052.6 853.4,1054.5 886.2,1054.5 895.6,1058.7 906.9,1059.7 L906.9,1062.0" fill="none" stroke="#000" stroke-width="2.2" stroke-linejoin="miter" stroke-miterlimit="4"/>
<path d="M117.0,1247.6 L117.0,1187.6 122.1,1204.7 124.0,1207.0 L124.0,1247.6 Z" fill="#00ffff" stroke="none"/><path d="M117.0,1247.6 L117.0,1187.6 122.1,1204.7 124.0,1207.0 L124.0,1247.6" fill="none" stroke="#000" stroke-width="2.4" stroke-linejoin="miter" stroke-miterlimit="4"/>
<path d="M186.0,1247.6 L186.0,1175.0 188.9,1159.4 194.4,1190.4 200.0,1203.4 L200.0,1247.6 Z" fill="#00ffff" stroke="none"/><path d="M186.0,1247.6 L186.0,1175.0 188.9,1159.4 194.4,1190.4 200.0,1203.4 L200.0,1247.6" fill="none" stroke="#000" stroke-width="2.4" stroke-linejoin="miter" stroke-miterlimit="4"/>
<path d="M224.0,1247.6 L224.0,1185.0 227.3,1152.4 233.4,1155.7 243.2,1178.3 248.8,1180.2 260.3,1142.2 266.8,1166.3 272.4,1170.9 277.9,1168.7 282.6,1204.7 288.1,1166.3 293.7,1182.1 299.3,1172.8 304.8,1154.2 310.4,1156.1 316.0,1123.6 320.6,1159.8 326.2,1153.3 331.8,1160.7 337.3,1149.6 342.9,1139.0 348.5,1114.3 354.0,1105.0 360.1,1084.6 365.2,1098.6 367.9,1125.5 370.7,1171.9 376.3,1171.9 381.9,1191.3 387.4,1196.9 L387.4,1247.6 Z" fill="#00ffff" stroke="none"/><path d="M224.0,1247.6 L224.0,1185.0 227.3,1152.4 233.4,1155.7 243.2,1178.3 248.8,1180.2 260.3,1142.2 266.8,1166.3 272.4,1170.9 277.9,1168.7 282.6,1204.7 288.1,1166.3 293.7,1182.1 299.3,1172.8 304.8,1154.2 310.4,1156.1 316.0,1123.6 320.6,1159.8 326.2,1153.3 331.8,1160.7 337.3,1149.6 342.9,1139.0 348.5,1114.3 354.0,1105.0 360.1,1084.6 365.2,1098.6 367.9,1125.5 370.7,1171.9 376.3,1171.9 381.9,1191.3 387.4,1196.9 L387.4,1247.6" fill="none" stroke="#000" stroke-width="2.4" stroke-linejoin="miter" stroke-miterlimit="4"/>
<path d="M491.0,1247.6 L491.0,1206.0 493.2,1202.5 496.9,1191.0 500.0,1203.5 L500.0,1247.6 Z" fill="#00ffff" stroke="none"/><path d="M491.0,1247.6 L491.0,1206.0 493.2,1202.5 496.9,1191.0 500.0,1203.5 L500.0,1247.6" fill="none" stroke="#000" stroke-width="2.4" stroke-linejoin="miter" stroke-miterlimit="4"/>
<path d="M562.8,1247.6 L562.8,1202.5 568.3,1113.4 574.8,1145.0 579.9,1147.7 585.4,1130.5 591.0,1141.2 596.2,1122.3 601.8,1124.9 608.2,1119.9 612.9,1119.0 619.4,1115.3 625.0,1118.6 630.5,1120.5 634.2,1130.1 637.0,1146.8 639.8,1184.8 645.4,1181.1 650.0,1196.9 L650.0,1247.6 Z" fill="#00ffff" stroke="none"/><path d="M562.8,1247.6 L562.8,1202.5 568.3,1113.4 574.8,1145.0 579.9,1147.7 585.4,1130.5 591.0,1141.2 596.2,1122.3 601.8,1124.9 608.2,1119.9 612.9,1119.0 619.4,1115.3 625.0,1118.6 630.5,1120.5 634.2,1130.1 637.0,1146.8 639.8,1184.8 645.4,1181.1 650.0,1196.9 L650.0,1247.6" fill="none" stroke="#000" stroke-width="2.4" stroke-linejoin="miter" stroke-miterlimit="4"/>
<path d="M745.6,1247.6 L745.6,1204.7 751.1,1177.8 756.1,1178.8 761.7,1150.9 767.3,1172.3 773.4,1166.1 779.0,1175.0 783.6,1175.0 793.8,1147.2 799.4,1158.3 804.9,1176.0 810.5,1166.7 816.1,1174.1 822.6,1168.6 828.1,1175.4 833.3,1142.6 837.9,1132.4 844.4,1096.7 850.5,1109.7 855.6,1130.1 861.1,1124.0 866.7,1128.7 871.3,1129.6 876.9,1117.9 882.5,1124.6 888.0,1126.4 893.6,1138.3 899.2,1169.5 904.7,1202.9 910.7,1204.4 L910.7,1247.6 Z" fill="#00ffff" stroke="none"/><path d="M745.6,1247.6 L745.6,1204.7 751.1,1177.8 756.1,1178.8 761.7,1150.9 767.3,1172.3 773.4,1166.1 779.0,1175.0 783.6,1175.0 793.8,1147.2 799.4,1158.3 804.9,1176.0 810.5,1166.7 816.1,1174.1 822.6,1168.6 828.1,1175.4 833.3,1142.6 837.9,1132.4 844.4,1096.7 850.5,1109.7 855.6,1130.1 861.1,1124.0 866.7,1128.7 871.3,1129.6 876.9,1117.9 882.5,1124.6 888.0,1126.4 893.6,1138.3 899.2,1169.5 904.7,1202.9 910.7,1204.4 L910.7,1247.6" fill="none" stroke="#000" stroke-width="2.4" stroke-linejoin="miter" stroke-miterlimit="4"/>
<path d="M193.0,1247.6 L193.0,1203.0 195.4,1199.0 198.0,1206.0 L198.0,1247.6 Z" fill="#ffff00" stroke="none"/><path d="M193.0,1247.6 L193.0,1203.0 195.4,1199.0 198.0,1206.0 L198.0,1247.6" fill="none" stroke="#000" stroke-width="2.4" stroke-linejoin="miter" stroke-miterlimit="4"/>
<path d="M318.0,1247.6 L318.0,1195.0 320.6,1185.8 326.2,1181.1 331.8,1183.0 337.3,1176.5 342.9,1181.7 349.4,1168.1 355.0,1157.9 360.1,1139.0 365.2,1140.3 370.7,1196.9 L370.7,1247.6 Z" fill="#ffff00" stroke="none"/><path d="M318.0,1247.6 L318.0,1195.0 320.6,1185.8 326.2,1181.1 331.8,1183.0 337.3,1176.5 342.9,1181.7 349.4,1168.1 355.0,1157.9 360.1,1139.0 365.2,1140.3 370.7,1196.9 L370.7,1247.6" fill="none" stroke="#000" stroke-width="2.4" stroke-linejoin="miter" stroke-miterlimit="4"/>
<path d="M573.5,1247.6 L573.5,1168.0 575.8,1170.9 580.4,1172.8 585.4,1157.6 591.0,1174.6 596.2,1168.7 602.7,1172.4 608.2,1168.7 613.8,1171.9 619.4,1169.1 625.0,1171.3 630.5,1171.9 634.2,1174.6 638.9,1196.9 L638.9,1247.6 Z" fill="#ffff00" stroke="none"/><path d="M573.5,1247.6 L573.5,1168.0 575.8,1170.9 580.4,1172.8 585.4,1157.6 591.0,1174.6 596.2,1168.7 602.7,1172.4 608.2,1168.7 613.8,1171.9 619.4,1169.1 625.0,1171.3 630.5,1171.9 634.2,1174.6 638.9,1196.9 L638.9,1247.6" fill="none" stroke="#000" stroke-width="2.4" stroke-linejoin="miter" stroke-miterlimit="4"/>
<path d="M833.3,1247.6 L833.3,1171.3 838.9,1176.0 845.4,1158.3 850.9,1158.3 855.6,1178.8 861.1,1173.6 867.6,1178.8 871.7,1178.8 876.9,1172.3 882.5,1179.7 888.0,1181.5 893.6,1189.9 L893.6,1247.6 Z" fill="#ffff00" stroke="none"/><path d="M833.3,1247.6 L833.3,1171.3 838.9,1176.0 845.4,1158.3 850.9,1158.3 855.6,1178.8 861.1,1173.6 867.6,1178.8 871.7,1178.8 876.9,1172.3 882.5,1179.7 888.0,1181.5 893.6,1189.9 L893.6,1247.6" fill="none" stroke="#000" stroke-width="2.4" stroke-linejoin="miter" stroke-miterlimit="4"/>
<path d="M117.0,1247.6 L117.0,1206.2 128.6,1209.0 134.1,1209.9 139.7,1203.4 145.3,1209.9 151.8,1204.0 157.3,1212.1 162.0,1207.1 166.6,1206.6 172.2,1209.9 177.7,1203.4 183.3,1209.5 188.9,1161.7 194.4,1209.5 200.9,1204.7 206.5,1205.2 211.1,1207.7 216.7,1201.5 222.3,1207.7 227.3,1168.7 238.0,1190.4 248.2,1202.5 254.7,1190.4 260.3,1170.0 265.9,1191.3 272.4,1197.8 277.0,1191.3 282.6,1204.7 288.1,1176.5 294.6,1191.3 299.3,1190.4 304.8,1181.1 310.4,1183.5 316.0,1150.1 320.6,1198.8 326.2,1193.6 337.3,1180.2 342.9,1191.3 349.4,1180.2 354.6,1171.9 360.5,1183.0 365.7,1207.1 371.6,1196.0 376.3,1196.9 382.8,1201.5 387.4,1197.3 393.9,1204.7 401.3,1204.7 408.8,1207.7 414.3,1203.4 419.9,1208.4 425.5,1202.5 432.0,1208.4 436.6,1203.4 442.2,1209.0 448.7,1202.5 453.3,1203.4 459.2,1157.6 464.8,1209.5 470.0,1205.2 475.6,1204.0 480.2,1204.7 485.8,1201.5 491.3,1207.1 496.9,1203.4 502.5,1209.9 508.0,1202.5 514.5,1209.0 520.1,1206.2 525.7,1204.0 531.2,1207.1 535.9,1200.6 541.4,1206.2 547.0,1202.1 552.6,1208.0 557.2,1208.4 562.8,1202.5 567.4,1135.7 573.9,1172.8 579.9,1189.5 585.0,1170.0 590.6,1188.6 596.2,1180.2 602.7,1185.8 608.2,1182.1 613.8,1185.8 619.4,1181.1 624.9,1184.3 630.5,1184.3 635.2,1189.5 638.9,1196.9 644.4,1200.2 650.0,1197.8 656.5,1208.4 662.1,1203.3 667.6,1208.4 673.2,1200.7 679.7,1205.7 689.9,1206.2 695.5,1203.8 701.0,1201.0 707.2,1208.4 712.2,1202.0 717.2,1161.7 722.7,1189.9 727.9,1207.5 733.9,1198.2 739.1,1202.5 745.0,1206.2 751.1,1201.0 756.1,1205.7 761.7,1174.1 767.3,1201.4 773.4,1193.2 783.6,1197.3 789.5,1182.5 794.4,1199.2 799.9,1192.1 804.9,1194.5 810.5,1189.0 816.1,1196.4 822.9,1190.8 828.1,1196.9 833.3,1171.7 838.9,1188.0 844.4,1174.1 850.0,1172.3 855.6,1190.8 861.1,1181.0 867.6,1183.4 871.7,1185.8 876.9,1177.8 882.5,1182.5 888.0,1183.4 893.6,1189.9 904.7,1202.9 910.7,1204.4 L910.7,1247.6 Z" fill="#969696" stroke="none"/><path d="M117.0,1247.6 L117.0,1206.2 128.6,1209.0 134.1,1209.9 139.7,1203.4 145.3,1209.9 151.8,1204.0 157.3,1212.1 162.0,1207.1 166.6,1206.6 172.2,1209.9 177.7,1203.4 183.3,1209.5 188.9,1161.7 194.4,1209.5 200.9,1204.7 206.5,1205.2 211.1,1207.7 216.7,1201.5 222.3,1207.7 227.3,1168.7 238.0,1190.4 248.2,1202.5 254.7,1190.4 260.3,1170.0 265.9,1191.3 272.4,1197.8 277.0,1191.3 282.6,1204.7 288.1,1176.5 294.6,1191.3 299.3,1190.4 304.8,1181.1 310.4,1183.5 316.0,1150.1 320.6,1198.8 326.2,1193.6 337.3,1180.2 342.9,1191.3 349.4,1180.2 354.6,1171.9 360.5,1183.0 365.7,1207.1 371.6,1196.0 376.3,1196.9 382.8,1201.5 387.4,1197.3 393.9,1204.7 401.3,1204.7 408.8,1207.7 414.3,1203.4 419.9,1208.4 425.5,1202.5 432.0,1208.4 436.6,1203.4 442.2,1209.0 448.7,1202.5 453.3,1203.4 459.2,1157.6 464.8,1209.5 470.0,1205.2 475.6,1204.0 480.2,1204.7 485.8,1201.5 491.3,1207.1 496.9,1203.4 502.5,1209.9 508.0,1202.5 514.5,1209.0 520.1,1206.2 525.7,1204.0 531.2,1207.1 535.9,1200.6 541.4,1206.2 547.0,1202.1 552.6,1208.0 557.2,1208.4 562.8,1202.5 567.4,1135.7 573.9,1172.8 579.9,1189.5 585.0,1170.0 590.6,1188.6 596.2,1180.2 602.7,1185.8 608.2,1182.1 613.8,1185.8 619.4,1181.1 624.9,1184.3 630.5,1184.3 635.2,1189.5 638.9,1196.9 644.4,1200.2 650.0,1197.8 656.5,1208.4 662.1,1203.3 667.6,1208.4 673.2,1200.7 679.7,1205.7 689.9,1206.2 695.5,1203.8 701.0,1201.0 707.2,1208.4 712.2,1202.0 717.2,1161.7 722.7,1189.9 727.9,1207.5 733.9,1198.2 739.1,1202.5 745.0,1206.2 751.1,1201.0 756.1,1205.7 761.7,1174.1 767.3,1201.4 773.4,1193.2 783.6,1197.3 789.5,1182.5 794.4,1199.2 799.9,1192.1 804.9,1194.5 810.5,1189.0 816.1,1196.4 822.9,1190.8 828.1,1196.9 833.3,1171.7 838.9,1188.0 844.4,1174.1 850.0,1172.3 855.6,1190.8 861.1,1181.0 867.6,1183.4 871.7,1185.8 876.9,1177.8 882.5,1182.5 888.0,1183.4 893.6,1189.9 904.7,1202.9 910.7,1204.4 L910.7,1247.6" fill="none" stroke="#000" stroke-width="2.6" stroke-linejoin="miter" stroke-miterlimit="4"/>
<path d="M117.0,1247.6 L117.0,1240.8 122.5,1246.0 128.0,1240.8 133.5,1246.0 139.0,1242.3 144.5,1246.0 150.1,1240.8 155.6,1246.0 161.1,1240.8 166.6,1246.0 172.1,1244.3 177.6,1246.0 183.1,1240.8 188.6,1246.0 194.1,1240.8 199.6,1246.0 205.2,1244.3 210.7,1246.0 216.2,1240.8 221.7,1246.0 227.2,1244.3 232.7,1246.0 238.2,1240.8 243.7,1246.0 249.2,1240.8 254.7,1246.0 260.3,1240.8 265.8,1246.0 271.3,1242.3 276.8,1246.0 282.3,1242.3 287.8,1246.0 293.3,1240.8 298.8,1246.0 304.3,1240.8 309.8,1246.0 315.4,1240.8 320.9,1246.0 326.4,1244.3 331.9,1246.0 337.4,1242.3 342.9,1246.0 348.4,1240.8 353.9,1246.0 359.4,1244.3 364.9,1246.0 370.5,1240.8 376.0,1246.0 381.5,1240.8 387.0,1246.0 392.5,1244.3 398.0,1246.0 403.5,1240.8 409.0,1246.0 414.5,1244.3 420.0,1246.0 425.6,1244.3 431.1,1246.0 436.6,1242.3 442.1,1246.0 447.6,1240.8 453.1,1246.0 458.6,1240.8 464.1,1246.0 469.6,1240.8 475.1,1246.0 480.7,1244.3 486.2,1246.0 491.7,1240.8 497.2,1246.0 502.7,1240.8 508.2,1246.0 513.7,1242.3 519.2,1246.0 524.7,1240.8 530.2,1246.0 535.8,1244.3 541.3,1246.0 546.8,1240.8 552.3,1246.0 557.8,1244.3 563.3,1246.0 568.8,1240.8 574.3,1246.0 579.8,1244.3 585.3,1246.0 590.9,1240.8 596.4,1246.0 601.9,1240.8 607.4,1246.0 612.9,1244.3 618.4,1246.0 623.9,1244.3 629.4,1246.0 634.9,1240.8 640.4,1246.0 646.0,1240.8 651.5,1246.0 657.0,1240.8 662.5,1246.0 668.0,1244.3 673.5,1246.0 679.0,1240.8 684.5,1246.0 690.0,1244.3 695.5,1246.0 701.1,1240.8 706.6,1246.0 712.1,1244.3 717.6,1246.0 723.1,1240.8 728.6,1246.0 734.1,1242.3 739.6,1246.0 745.1,1244.3 750.6,1246.0 756.2,1242.3 761.7,1246.0 767.2,1240.8 772.7,1246.0 778.2,1242.3 783.7,1246.0 789.2,1244.3 794.7,1246.0 800.2,1242.3 805.7,1246.0 811.3,1240.8 816.8,1246.0 822.3,1240.8 827.8,1246.0 833.3,1240.8 838.8,1246.0 844.3,1240.8 849.8,1246.0 855.3,1240.8 860.8,1246.0 866.4,1240.8 871.9,1246.0 877.4,1244.3 882.9,1246.0 888.4,1240.8 893.9,1246.0 899.4,1244.3 904.9,1246.0 910.7,1243.0 L910.7,1247.6 Z" fill="url(#hatchB)" stroke="none"/><path d="M117.0,1247.6 L117.0,1240.8 122.5,1246.0 128.0,1240.8 133.5,1246.0 139.0,1242.3 144.5,1246.0 150.1,1240.8 155.6,1246.0 161.1,1240.8 166.6,1246.0 172.1,1244.3 177.6,1246.0 183.1,1240.8 188.6,1246.0 194.1,1240.8 199.6,1246.0 205.2,1244.3 210.7,1246.0 216.2,1240.8 221.7,1246.0 227.2,1244.3 232.7,1246.0 238.2,1240.8 243.7,1246.0 249.2,1240.8 254.7,1246.0 260.3,1240.8 265.8,1246.0 271.3,1242.3 276.8,1246.0 282.3,1242.3 287.8,1246.0 293.3,1240.8 298.8,1246.0 304.3,1240.8 309.8,1246.0 315.4,1240.8 320.9,1246.0 326.4,1244.3 331.9,1246.0 337.4,1242.3 342.9,1246.0 348.4,1240.8 353.9,1246.0 359.4,1244.3 364.9,1246.0 370.5,1240.8 376.0,1246.0 381.5,1240.8 387.0,1246.0 392.5,1244.3 398.0,1246.0 403.5,1240.8 409.0,1246.0 414.5,1244.3 420.0,1246.0 425.6,1244.3 431.1,1246.0 436.6,1242.3 442.1,1246.0 447.6,1240.8 453.1,1246.0 458.6,1240.8 464.1,1246.0 469.6,1240.8 475.1,1246.0 480.7,1244.3 486.2,1246.0 491.7,1240.8 497.2,1246.0 502.7,1240.8 508.2,1246.0 513.7,1242.3 519.2,1246.0 524.7,1240.8 530.2,1246.0 535.8,1244.3 541.3,1246.0 546.8,1240.8 552.3,1246.0 557.8,1244.3 563.3,1246.0 568.8,1240.8 574.3,1246.0 579.8,1244.3 585.3,1246.0 590.9,1240.8 596.4,1246.0 601.9,1240.8 607.4,1246.0 612.9,1244.3 618.4,1246.0 623.9,1244.3 629.4,1246.0 634.9,1240.8 640.4,1246.0 646.0,1240.8 651.5,1246.0 657.0,1240.8 662.5,1246.0 668.0,1244.3 673.5,1246.0 679.0,1240.8 684.5,1246.0 690.0,1244.3 695.5,1246.0 701.1,1240.8 706.6,1246.0 712.1,1244.3 717.6,1246.0 723.1,1240.8 728.6,1246.0 734.1,1242.3 739.6,1246.0 745.1,1244.3 750.6,1246.0 756.2,1242.3 761.7,1246.0 767.2,1240.8 772.7,1246.0 778.2,1242.3 783.7,1246.0 789.2,1244.3 794.7,1246.0 800.2,1242.3 805.7,1246.0 811.3,1240.8 816.8,1246.0 822.3,1240.8 827.8,1246.0 833.3,1240.8 838.8,1246.0 844.3,1240.8 849.8,1246.0 855.3,1240.8 860.8,1246.0 866.4,1240.8 871.9,1246.0 877.4,1244.3 882.9,1246.0 888.4,1240.8 893.9,1246.0 899.4,1244.3 904.9,1246.0 910.7,1243.0 L910.7,1247.6" fill="none" stroke="#000" stroke-width="2.2" stroke-linejoin="miter" stroke-miterlimit="4"/>
<polyline points="115.5,911.2 126.6,914.8 139.3,914.8 145.2,913.6 164.7,914.2 175.4,916.1 182.3,913.6 197.9,916.1 203.8,910.3 208.6,908.9 221.3,911.2 227.2,910.9 237.0,908.3 244.8,908.3 253.6,905.0 260.4,902.5 274.0,903.0 279.9,900.5 291.6,902.5 297.5,900.5 300.0,901.0 307.8,904.5 319.5,906.9 324.4,905.9 336.1,911.2 346.9,910.8 358.6,915.7 364.5,915.7 373.2,917.6 380.1,918.2 390.8,922.5 401.6,922.1 412.3,923.5 418.2,922.5 424.0,927.4 434.8,926.8 450.4,933.2 456.2,932.3 464.1,934.2 472.9,935.8 478.7,933.2 489.5,935.8 499.8,929.3 511.5,919.6 521.2,916.2 534.9,912.7 552.5,911.2 562.3,914.7 570.1,916.6 579.8,913.7 593.5,917.0 607.2,916.2 622.8,917.0 634.5,916.2 640.4,918.2 650.2,922.1 656.0,919.6 665.8,920.5 671.6,923.5 676.5,919.6 683.4,921.5 687.0,922.1 698.3,929.8 703.4,926.8 715.2,928.4 722.2,929.8 731.6,926.1 738.6,928.4 744.4,928.0 750.3,923.7 759.7,921.4 769.1,914.4 773.8,909.2 780.8,908.0 787.8,904.5 794.8,906.4 804.2,901.0 813.6,899.4 820.6,896.3 830.0,897.5 835.8,894.7 844.0,897.0 853.4,895.2 860.5,899.4 868.7,902.6 879.2,898.7 890.9,904.1 907.3,905.0" fill="none" stroke="#000" stroke-width="2.6" stroke-linejoin="round"/>
<polyline points="115.5,802.9 126.6,805.4 132.5,806.0 143.2,808.4 159.8,808.4 166.6,809.5 197.9,809.5 203.8,812.3 209.6,809.3 254.5,809.5 264.3,808.4 270.2,808.0 281.9,805.6 297.5,805.6 305.3,803.5 308.8,802.1 314.6,802.5 325.0,806.0 337.1,802.9 350.8,804.5 358.6,803.5 368.4,802.1 384.0,802.5 390.8,803.7 395.7,802.1 406.4,806.0 434.8,806.0 440.6,807.4 462.1,807.4 467.0,805.6 472.9,808.4 505.6,808.4 511.5,807.4 517.3,808.4 533.0,808.4 540.8,809.7 564.2,809.3 572.0,810.7 581.8,810.7 589.6,807.4 599.4,806.4 611.1,806.4 622.8,804.1 658.0,804.1 663.8,807.4 708.1,807.5 715.2,808.4 722.2,808.0 731.6,812.2 738.6,808.4 750.3,806.8 769.1,806.8 776.1,805.2 787.8,803.7 830.0,803.7 835.8,802.8 841.7,803.7 853.4,803.7 859.3,802.8 865.1,804.4 874.5,802.8 908.0,802.8" fill="none" stroke="#000080" stroke-width="3.0" stroke-linejoin="round"/>
<line x1="115.6" y1="743.3" x2="115.8" y2="1253" stroke="#444" stroke-width="1.4"/>
<line x1="908" y1="743.5" x2="910.3" y2="1247" stroke="#333" stroke-width="1.4"/>
<line x1="115" y1="743.4" x2="916" y2="743.4" stroke="#555" stroke-width="1.3"/>
<line x1="107.6" y1="1061.8" x2="910" y2="1061.8" stroke="#999" stroke-width="1.3"/>
<line x1="115.6" y1="1247.9" x2="911" y2="1247.9" stroke="#bbb" stroke-width="1.1"/>
<line x1="105.3" y1="743.4" x2="115.6" y2="743.4" stroke="#000" stroke-width="2.0"/>
<line x1="105.3" y1="822.6" x2="115.6" y2="822.6" stroke="#000" stroke-width="2.0"/>
<line x1="105.3" y1="902.6" x2="115.6" y2="902.6" stroke="#000" stroke-width="2.0"/>
<line x1="105.3" y1="982.2" x2="115.6" y2="982.2" stroke="#000" stroke-width="2.0"/>
<line x1="104.2" y1="1109.3" x2="115.6" y2="1109.3" stroke="#000" stroke-width="2.4"/>
<line x1="104.2" y1="1154.1" x2="115.6" y2="1154.1" stroke="#000" stroke-width="2.4"/>
<line x1="104.2" y1="1199.6" x2="115.6" y2="1199.6" stroke="#000" stroke-width="2.4"/>
<line x1="104.2" y1="1246.2" x2="115.6" y2="1246.2" stroke="#000" stroke-width="2.4"/>
<line x1="908.2" y1="796.9" x2="915.6" y2="796.9" stroke="#000" stroke-width="1.3"/>
<line x1="908.2" y1="849.2" x2="915.6" y2="849.2" stroke="#000" stroke-width="1.3"/>
<line x1="908.2" y1="902.8" x2="915.6" y2="902.8" stroke="#000" stroke-width="1.3"/>
<line x1="908.2" y1="956.1" x2="915.6" y2="956.1" stroke="#000" stroke-width="1.3"/>
<line x1="182.9" y1="1246.5" x2="182.9" y2="1253" stroke="#000" stroke-width="1.4"/>
<line x1="249.0" y1="1246.5" x2="249.0" y2="1253" stroke="#000" stroke-width="1.4"/>
<line x1="315.2" y1="1246.5" x2="315.2" y2="1253" stroke="#000" stroke-width="1.4"/>
<line x1="381.3" y1="1246.5" x2="381.3" y2="1253" stroke="#000" stroke-width="1.4"/>
<line x1="447.5" y1="1246.5" x2="447.5" y2="1253" stroke="#000" stroke-width="1.4"/>
<line x1="513.6" y1="1246.5" x2="513.6" y2="1253" stroke="#000" stroke-width="1.4"/>
<line x1="579.8" y1="1246.5" x2="579.8" y2="1253" stroke="#000" stroke-width="1.4"/>
<line x1="645.9" y1="1246.5" x2="645.9" y2="1253" stroke="#000" stroke-width="1.4"/>
<line x1="712.1" y1="1246.5" x2="712.1" y2="1253" stroke="#000" stroke-width="1.4"/>
<line x1="778.2" y1="1246.5" x2="778.2" y2="1253" stroke="#000" stroke-width="1.4"/>
<line x1="844.4" y1="1246.5" x2="844.4" y2="1253" stroke="#000" stroke-width="1.4"/>
<line x1="910.5" y1="1246.5" x2="910.5" y2="1253" stroke="#000" stroke-width="1.4"/>
<line x1="115.9" y1="1305" x2="115.9" y2="1336" stroke="#000" stroke-width="2.8"/>
<line x1="378.5" y1="1305" x2="378.5" y2="1336" stroke="#000" stroke-width="2.8"/>
<line x1="641.5" y1="1305" x2="641.5" y2="1336" stroke="#000" stroke-width="2.8"/>
<line x1="905" y1="1305" x2="905" y2="1336" stroke="#000" stroke-width="2.8"/>
<line x1="230.1" y1="83.9" x2="208.6" y2="104.4" stroke="#000" stroke-width="2.0"/>
<line x1="575.9" y1="80.7" x2="591.6" y2="107.1" stroke="#000" stroke-width="2.0"/>
<line x1="190.1" y1="159.1" x2="205.7" y2="175.3" stroke="#000" stroke-width="2.0"/>
<line x1="158.75" y1="275.6" x2="189.7" y2="336.6" stroke="#000" stroke-width="2.0"/>
<line x1="554.2" y1="233.7" x2="586.4" y2="264.5" stroke="#000" stroke-width="2.0"/>
<line x1="663.6" y1="233.4" x2="624.5" y2="285.7" stroke="#000" stroke-width="2.0"/>
<line x1="317.9" y1="415.7" x2="349.6" y2="462.7" stroke="#000" stroke-width="2.0"/>
<line x1="661" y1="415.7" x2="716.4" y2="509.8" stroke="#000" stroke-width="2.0"/>
<line x1="758.4" y1="433.9" x2="774.2" y2="493.3" stroke="#000" stroke-width="2.0"/>
<line x1="562.7" y1="777.1" x2="577.3" y2="808.75" stroke="#000" stroke-width="2.0"/>
<line x1="548.6" y1="838.6" x2="570.1" y2="861.1" stroke="#000" stroke-width="2.0"/>
<line x1="661.9" y1="868.8" x2="633.6" y2="900" stroke="#000" stroke-width="2.0"/>
<line x1="478.1" y1="914.7" x2="463.1" y2="930.7" stroke="#000" stroke-width="2.0"/>
<line x1="206.7" y1="966" x2="262.3" y2="1057.7" stroke="#000" stroke-width="2.0"/>
<line x1="165.7" y1="1129.7" x2="186.1" y2="1245.2" stroke="#000" stroke-width="2.0"/>
<line x1="477.4" y1="1119" x2="534" y2="1209" stroke="#000" stroke-width="2.0"/>
<line x1="662.1" y1="1145.4" x2="636.1" y2="1174.6" stroke="#000" stroke-width="2.0"/>
<line x1="796.6" y1="1099.9" x2="836.5" y2="1136.1" stroke="#000" stroke-width="2.0"/>
<rect x="758.6" y="16.8" width="128.3" height="34.6" fill="#fff" stroke="#000" stroke-width="2.2"/>
<rect x="760.5" y="723.8" width="128.9" height="35.9" fill="#fff" stroke="#000" stroke-width="2.0"/>
<g fill="#000" opacity="0.999">
<text transform="translate(55.76,46.90) scale(0.9132,1)" font-family='"Liberation Sans", sans-serif' font-size="29.72" stroke="#000" stroke-width="0.3">100</text>
<text transform="translate(65.40,115.80) scale(0.9449,1)" font-family='"Liberation Sans", sans-serif' font-size="29.57" stroke="#000" stroke-width="0.3">75</text>
<text transform="translate(65.68,197.11) scale(0.9690,1)" font-family='"Liberation Sans", sans-serif' font-size="29.01" stroke="#000" stroke-width="0.3">50</text>
<text transform="translate(65.08,275.02) scale(1.0212,1)" font-family='"Liberation Sans", sans-serif' font-size="27.75" stroke="#000" stroke-width="0.3">25</text>
<text transform="translate(76.67,351.62) scale(1.0058,1)" font-family='"Liberation Sans", sans-serif' font-size="28.17" stroke="#000" stroke-width="0.3">0</text>
<text transform="translate(74.55,401.21) scale(0.9868,1)" font-family='"Liberation Sans", sans-serif' font-size="29.01" stroke="#000" stroke-width="0.3">3</text>
<text transform="translate(73.92,445.10) scale(1.0131,1)" font-family='"Liberation Sans", sans-serif' font-size="29.29" stroke="#000" stroke-width="0.3">2</text>
<text transform="translate(75.85,488.80) scale(0.6468,1)" font-family='"Liberation Sans", sans-serif' font-size="29.86" stroke="#000" stroke-width="0.3">1</text>
<text transform="translate(75.54,537.91) scale(0.9981,1)" font-family='"Liberation Sans", sans-serif' font-size="29.01" stroke="#000" stroke-width="0.3">0</text>
<text transform="translate(928.88,46.11) scale(0.9718,1)" font-family='"Liberation Sans", sans-serif' font-size="28.73" stroke="#000" stroke-width="0.3">30</text>
<text transform="translate(928.59,108.02) scale(1.0009,1)" font-family='"Liberation Sans", sans-serif' font-size="28.17" stroke="#000" stroke-width="0.3">20</text>
<text transform="translate(928.91,169.93) scale(1.0211,1)" font-family='"Liberation Sans", sans-serif' font-size="27.32" stroke="#000" stroke-width="0.3">10</text>
<text transform="translate(928.92,231.44) scale(1.0451,1)" font-family='"Liberation Sans", sans-serif' font-size="25.92" stroke="#000" stroke-width="0.3">0</text>
<text transform="translate(87.66,584.14) scale(0.8906,1)" font-family='"Liberation Sans", sans-serif' font-size="26.48" stroke="#000" stroke-width="0.3">0:00</text>
<text transform="translate(211.79,584.15) scale(0.9539,1)" font-family='"Liberation Sans", sans-serif' font-size="25.35" stroke="#000" stroke-width="0.3">12:00</text>
<text transform="translate(350.54,582.35) scale(0.9577,1)" font-family='"Liberation Sans", sans-serif' font-size="25.07" stroke="#000" stroke-width="0.3">0:00</text>
<text transform="translate(475.29,584.15) scale(0.9539,1)" font-family='"Liberation Sans", sans-serif' font-size="25.35" stroke="#000" stroke-width="0.3">12:00</text>
<text transform="translate(612.84,582.45) scale(0.9481,1)" font-family='"Liberation Sans", sans-serif' font-size="25.35" stroke="#000" stroke-width="0.3">0:00</text>
<text transform="translate(738.20,584.15) scale(0.9473,1)" font-family='"Liberation Sans", sans-serif' font-size="25.35" stroke="#000" stroke-width="0.3">12:00</text>
<text transform="translate(875.63,584.44) scale(0.9169,1)" font-family='"Liberation Sans", sans-serif' font-size="26.48" stroke="#000" stroke-width="0.3">0:00</text>
<text transform="translate(172.40,622.80) scale(0.9093,1)" font-family='"Liberation Serif", serif' font-size="33.03">2007 Jan.3</text>
<text transform="translate(456.16,622.80) scale(0.9029,1)" font-family='"Liberation Serif", serif' font-size="33.03">2007 Jan.4</text>
<text transform="translate(696.46,622.80) scale(0.9047,1)" font-family='"Liberation Serif", serif' font-size="33.03">2007 Jan.5</text>
<text transform="translate(491.29,685.26) scale(1.1557,1)" font-family='"Liberation Serif", serif' font-size="30.88">(</text>
<text transform="translate(503.11,685.44) scale(0.9463,1)" font-family='"Liberation Serif", serif' font-size="31.35" font-weight="bold">a</text>
<text transform="translate(517.68,685.26) scale(1.0961,1)" font-family='"Liberation Serif", serif' font-size="30.88">)</text>
<text transform="translate(45.80,478.13) rotate(-90) scale(0.9648,1)" font-family='"Liberation Sans", sans-serif' font-size="30.14" stroke="#000" stroke-width="0.25">Energy consumption [MJ/h]</text>
<text transform="translate(992.00,286.19) rotate(-90) scale(0.9613,1)" font-family='"Liberation Sans", sans-serif' font-size="30.43" stroke="#000" stroke-width="0.25">Temperature [°C]</text>
<text transform="translate(150.20,76.54) scale(0.9459,1)" font-family='"Liberation Serif", serif' font-size="31.82">Bedroom temperature</text>
<text transform="translate(433.50,73.90) scale(0.9356,1)" font-family='"Liberation Serif", serif' font-size="32.21">Living room temperature</text>
<text transform="translate(119.70,158.38) scale(0.9391,1)" font-family='"Liberation Serif", serif' font-size="31.94">Outdoor temperature</text>
<text transform="translate(389.45,226.58) scale(0.9308,1)" font-family='"Liberation Serif", serif' font-size="32.24">Space heating</text>
<text transform="translate(617.19,224.58) scale(0.9367,1)" font-family='"Liberation Serif", serif' font-size="32.39">Cooking &amp; hot water</text>
<text transform="translate(138.70,268.98) scale(0.9423,1)" font-family='"Liberation Serif", serif' font-size="31.79">Other</text>
<text transform="translate(247.30,403.70) scale(0.9327,1)" font-family='"Liberation Serif", serif' font-size="32.21">Lighting</text>
<text transform="translate(531.50,413.80) scale(0.9612,1)" font-family='"Liberation Serif", serif' font-size="31.30">Refrigerator</text>
<text transform="translate(704.50,392.20) scale(0.9149,1)" font-family='"Liberation Serif", serif' font-size="32.58">Audio visual</text>
<text transform="translate(703.99,430.00) scale(0.9933,1)" font-family='"Liberation Serif", serif' font-size="30.37">&amp; information</text>
<text transform="translate(767.01,45.70) scale(0.9571,1)" font-family='"Liberation Serif", serif' font-size="30.99">House 01</text>
<text transform="translate(53.22,758.30) scale(0.9260,1)" font-family='"Liberation Sans", sans-serif' font-size="30.00" stroke="#000" stroke-width="0.3">100</text>
<text transform="translate(68.03,837.61) scale(0.9295,1)" font-family='"Liberation Sans", sans-serif' font-size="29.43" stroke="#000" stroke-width="0.3">75</text>
<text transform="translate(68.32,917.61) scale(0.9291,1)" font-family='"Liberation Sans", sans-serif' font-size="29.01" stroke="#000" stroke-width="0.3">50</text>
<text transform="translate(68.03,997.61) scale(0.9427,1)" font-family='"Liberation Sans", sans-serif' font-size="29.01" stroke="#000" stroke-width="0.3">25</text>
<text transform="translate(74.27,1073.70) scale(0.9489,1)" font-family='"Liberation Sans", sans-serif' font-size="29.86" stroke="#000" stroke-width="0.3">0</text>
<text transform="translate(74.58,1125.50) scale(0.9377,1)" font-family='"Liberation Sans", sans-serif' font-size="29.86" stroke="#000" stroke-width="0.3">3</text>
<text transform="translate(73.68,1171.30) scale(1.0015,1)" font-family='"Liberation Sans", sans-serif' font-size="30.29" stroke="#000" stroke-width="0.3">2</text>
<text transform="translate(75.02,1216.00) scale(0.6465,1)" font-family='"Liberation Sans", sans-serif' font-size="30.58" stroke="#000" stroke-width="0.3">1</text>
<text transform="translate(74.27,1261.20) scale(0.9534,1)" font-family='"Liberation Sans", sans-serif' font-size="29.72" stroke="#000" stroke-width="0.3">0</text>
<text transform="translate(926.88,756.72) scale(0.9913,1)" font-family='"Liberation Sans", sans-serif' font-size="28.17" stroke="#000" stroke-width="0.3">30</text>
<text transform="translate(926.59,810.62) scale(1.0009,1)" font-family='"Liberation Sans", sans-serif' font-size="28.17" stroke="#000" stroke-width="0.3">20</text>
<text transform="translate(926.91,862.52) scale(0.9904,1)" font-family='"Liberation Sans", sans-serif' font-size="28.17" stroke="#000" stroke-width="0.3">10</text>
<text transform="translate(926.92,915.42) scale(0.9663,1)" font-family='"Liberation Sans", sans-serif' font-size="28.03" stroke="#000" stroke-width="0.3">0</text>
<text transform="translate(925.72,968.42) scale(1.0117,1)" font-family='"Liberation Sans", sans-serif' font-size="28.17" stroke="#000" stroke-width="0.3">-10</text>
<text transform="translate(89.55,1286.32) scale(0.8448,1)" font-family='"Liberation Sans", sans-serif' font-size="28.17" stroke="#000" stroke-width="0.3">0:00</text>
<text transform="translate(214.81,1286.32) scale(0.8481,1)" font-family='"Liberation Sans", sans-serif' font-size="28.17" stroke="#000" stroke-width="0.3">12:00</text>
<text transform="translate(350.02,1286.32) scale(0.8685,1)" font-family='"Liberation Sans", sans-serif' font-size="28.17" stroke="#000" stroke-width="0.3">0:00</text>
<text transform="translate(475.60,1286.32) scale(0.8526,1)" font-family='"Liberation Sans", sans-serif' font-size="28.17" stroke="#000" stroke-width="0.3">12:00</text>
<text transform="translate(614.80,1286.32) scale(0.8400,1)" font-family='"Liberation Sans", sans-serif' font-size="28.17" stroke="#000" stroke-width="0.3">0:00</text>
<text transform="translate(739.01,1286.32) scale(0.8496,1)" font-family='"Liberation Sans", sans-serif' font-size="28.17" stroke="#000" stroke-width="0.3">12:00</text>
<text transform="translate(878.30,1286.32) scale(0.8448,1)" font-family='"Liberation Sans", sans-serif' font-size="28.17" stroke="#000" stroke-width="0.3">0:00</text>
<text transform="translate(160.64,1329.80) scale(0.9209,1)" font-family='"Liberation Serif", serif' font-size="32.73">2008 Jan.22</text>
<text transform="translate(436.41,1329.80) scale(0.9086,1)" font-family='"Liberation Serif", serif' font-size="32.73">2008 Jan.23</text>
<text transform="translate(713.16,1329.80) scale(0.9103,1)" font-family='"Liberation Serif", serif' font-size="32.73">2008 Jan.24</text>
<text transform="translate(490.45,1392.82) scale(1.0942,1)" font-family='"Liberation Serif", serif' font-size="31.54">(</text>
<text transform="translate(502.50,1393.39) scale(0.9843,1)" font-family='"Liberation Serif", serif' font-size="30.78" font-weight="bold">b</text>
<text transform="translate(517.96,1392.89) scale(1.1092,1)" font-family='"Liberation Serif", serif' font-size="31.21">)</text>
<text transform="translate(41.20,1182.87) rotate(-90) scale(0.9776,1)" font-family='"Liberation Sans", sans-serif' font-size="30.29" stroke="#000" stroke-width="0.25">Energy consumption [MJ/h]</text>
<text transform="translate(996.50,1003.20) rotate(-90) scale(0.9833,1)" font-family='"Liberation Sans", sans-serif' font-size="30.43" stroke="#000" stroke-width="0.25">Temperature [°C]</text>
<text transform="translate(449.67,776.10) scale(0.9015,1)" font-family='"Liberation Serif", serif' font-size="30.53">Living room temperature</text>
<text transform="translate(395.80,835.80) scale(0.9049,1)" font-family='"Liberation Serif", serif' font-size="30.30">Cooking &amp; hot water</text>
<text transform="translate(649.51,852.19) scale(0.8938,1)" font-family='"Liberation Serif", serif' font-size="30.75">Space heating</text>
<text transform="translate(364.80,903.70) scale(0.9290,1)" font-family='"Liberation Serif", serif' font-size="29.70">Outdoor temperature</text>
<text transform="translate(146.40,964.70) scale(0.9201,1)" font-family='"Liberation Serif", serif' font-size="29.85">Other</text>
<text transform="translate(577.70,1091.10) scale(0.9368,1)" font-family='"Liberation Serif", serif' font-size="31.97">Audio visual &amp; information</text>
<text transform="translate(648.89,1138.30) scale(0.9313,1)" font-family='"Liberation Serif", serif' font-size="29.16">Lighting</text>
<text transform="translate(422.72,1108.91) scale(0.9339,1)" font-family='"Liberation Serif", serif' font-size="28.96">Other</text>
<text transform="translate(121.48,1126.30) scale(0.9784,1)" font-family='"Liberation Serif", serif' font-size="28.09">Refrigerator</text>
<text transform="translate(769.60,754.30) scale(0.9059,1)" font-family='"Liberation Serif", serif' font-size="33.13">House 05</text>
</g>
</svg>
</body></html>
